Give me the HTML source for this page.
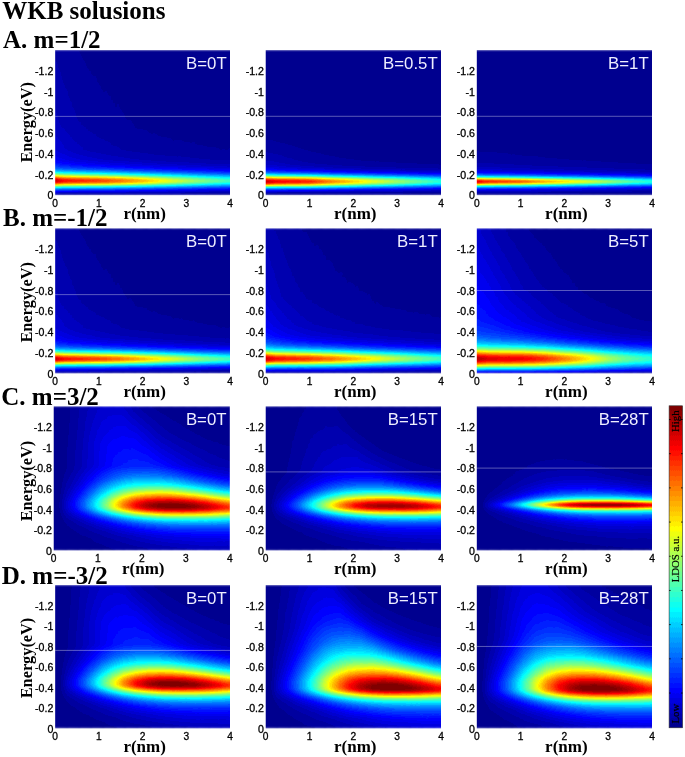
<!DOCTYPE html><html><head><meta charset="utf-8"><style>.g0{stop-color:#000000}.g1{stop-color:#010101}.g2{stop-color:#020202}.g3{stop-color:#030303}.g4{stop-color:#040404}.g5{stop-color:#050505}.g6{stop-color:#060606}.g7{stop-color:#070707}.g8{stop-color:#080808}.g9{stop-color:#090909}.ga{stop-color:#0a0a0a}.gb{stop-color:#0b0b0b}.gc{stop-color:#0c0c0c}.gd{stop-color:#0d0d0d}.ge{stop-color:#0e0e0e}.gf{stop-color:#0f0f0f}.g10{stop-color:#101010}.g11{stop-color:#111111}.g12{stop-color:#121212}.g13{stop-color:#131313}.g14{stop-color:#141414}.g15{stop-color:#151515}.g16{stop-color:#161616}.g17{stop-color:#171717}.g18{stop-color:#181818}.g19{stop-color:#191919}.g1a{stop-color:#1a1a1a}.g1b{stop-color:#1b1b1b}.g1c{stop-color:#1c1c1c}.g1d{stop-color:#1d1d1d}.g1e{stop-color:#1e1e1e}.g1f{stop-color:#1f1f1f}.g20{stop-color:#202020}.g21{stop-color:#212121}.g22{stop-color:#222222}.g23{stop-color:#232323}.g24{stop-color:#242424}.g25{stop-color:#252525}.g26{stop-color:#262626}.g27{stop-color:#272727}.g28{stop-color:#282828}.g29{stop-color:#292929}.g2a{stop-color:#2a2a2a}.g2b{stop-color:#2b2b2b}.g2c{stop-color:#2c2c2c}.g2d{stop-color:#2d2d2d}.g2e{stop-color:#2e2e2e}.g2f{stop-color:#2f2f2f}.g30{stop-color:#303030}.g31{stop-color:#313131}.g32{stop-color:#323232}.g33{stop-color:#333333}.g34{stop-color:#343434}.g35{stop-color:#353535}.g36{stop-color:#363636}.g37{stop-color:#373737}.g38{stop-color:#383838}.g39{stop-color:#393939}.g3a{stop-color:#3a3a3a}.g3b{stop-color:#3b3b3b}.g3c{stop-color:#3c3c3c}.g3d{stop-color:#3d3d3d}.g3e{stop-color:#3e3e3e}.g3f{stop-color:#3f3f3f}.g40{stop-color:#404040}.g41{stop-color:#414141}.g42{stop-color:#424242}.g43{stop-color:#434343}.g44{stop-color:#444444}.g45{stop-color:#454545}.g46{stop-color:#464646}.g47{stop-color:#474747}.g48{stop-color:#484848}.g49{stop-color:#494949}.g4a{stop-color:#4a4a4a}.g4b{stop-color:#4b4b4b}.g4c{stop-color:#4c4c4c}.g4d{stop-color:#4d4d4d}.g4e{stop-color:#4e4e4e}.g4f{stop-color:#4f4f4f}.g50{stop-color:#505050}.g51{stop-color:#515151}.g52{stop-color:#525252}.g53{stop-color:#535353}.g54{stop-color:#545454}.g55{stop-color:#555555}.g56{stop-color:#565656}.g57{stop-color:#575757}.g58{stop-color:#585858}.g59{stop-color:#595959}.g5a{stop-color:#5a5a5a}.g5b{stop-color:#5b5b5b}.g5c{stop-color:#5c5c5c}.g5d{stop-color:#5d5d5d}.g5e{stop-color:#5e5e5e}.g5f{stop-color:#5f5f5f}.g60{stop-color:#606060}.g61{stop-color:#616161}.g62{stop-color:#626262}.g63{stop-color:#636363}.g64{stop-color:#646464}.g65{stop-color:#656565}.g66{stop-color:#666666}.g67{stop-color:#676767}.g68{stop-color:#686868}.g69{stop-color:#696969}.g6a{stop-color:#6a6a6a}.g6b{stop-color:#6b6b6b}.g6c{stop-color:#6c6c6c}.g6d{stop-color:#6d6d6d}.g6e{stop-color:#6e6e6e}.g6f{stop-color:#6f6f6f}.g70{stop-color:#707070}.g71{stop-color:#717171}.g72{stop-color:#727272}.g73{stop-color:#737373}.g74{stop-color:#747474}.g75{stop-color:#757575}.g76{stop-color:#767676}.g77{stop-color:#777777}.g78{stop-color:#787878}.g79{stop-color:#797979}.g7a{stop-color:#7a7a7a}.g7b{stop-color:#7b7b7b}.g7c{stop-color:#7c7c7c}.g7d{stop-color:#7d7d7d}.g7e{stop-color:#7e7e7e}.g7f{stop-color:#7f7f7f}.g80{stop-color:#808080}.g81{stop-color:#818181}.g82{stop-color:#828282}.g83{stop-color:#838383}.g84{stop-color:#848484}.g85{stop-color:#858585}.g86{stop-color:#868686}.g87{stop-color:#878787}.g88{stop-color:#888888}.g89{stop-color:#898989}.g8a{stop-color:#8a8a8a}.g8b{stop-color:#8b8b8b}.g8c{stop-color:#8c8c8c}.g8d{stop-color:#8d8d8d}.g8e{stop-color:#8e8e8e}.g8f{stop-color:#8f8f8f}.g90{stop-color:#909090}.g91{stop-color:#919191}.g92{stop-color:#929292}.g93{stop-color:#939393}.g94{stop-color:#949494}.g95{stop-color:#959595}.g96{stop-color:#969696}.g97{stop-color:#979797}.g98{stop-color:#989898}.g99{stop-color:#999999}.g9a{stop-color:#9a9a9a}.g9b{stop-color:#9b9b9b}.g9c{stop-color:#9c9c9c}.g9d{stop-color:#9d9d9d}.g9e{stop-color:#9e9e9e}.g9f{stop-color:#9f9f9f}.ga0{stop-color:#a0a0a0}.ga1{stop-color:#a1a1a1}.ga2{stop-color:#a2a2a2}.ga3{stop-color:#a3a3a3}.ga4{stop-color:#a4a4a4}.ga5{stop-color:#a5a5a5}.ga6{stop-color:#a6a6a6}.ga7{stop-color:#a7a7a7}.ga8{stop-color:#a8a8a8}.ga9{stop-color:#a9a9a9}.gaa{stop-color:#aaaaaa}.gab{stop-color:#ababab}.gac{stop-color:#acacac}.gad{stop-color:#adadad}.gae{stop-color:#aeaeae}.gaf{stop-color:#afafaf}.gb0{stop-color:#b0b0b0}.gb1{stop-color:#b1b1b1}.gb2{stop-color:#b2b2b2}.gb3{stop-color:#b3b3b3}.gb4{stop-color:#b4b4b4}.gb5{stop-color:#b5b5b5}.gb6{stop-color:#b6b6b6}.gb7{stop-color:#b7b7b7}.gb8{stop-color:#b8b8b8}.gb9{stop-color:#b9b9b9}.gba{stop-color:#bababa}.gbb{stop-color:#bbbbbb}.gbc{stop-color:#bcbcbc}.gbd{stop-color:#bdbdbd}.gbe{stop-color:#bebebe}.gbf{stop-color:#bfbfbf}.gc0{stop-color:#c0c0c0}.gc1{stop-color:#c1c1c1}.gc2{stop-color:#c2c2c2}.gc3{stop-color:#c3c3c3}.gc4{stop-color:#c4c4c4}.gc5{stop-color:#c5c5c5}.gc6{stop-color:#c6c6c6}.gc7{stop-color:#c7c7c7}.gc8{stop-color:#c8c8c8}.gc9{stop-color:#c9c9c9}.gca{stop-color:#cacaca}.gcb{stop-color:#cbcbcb}.gcc{stop-color:#cccccc}.gcd{stop-color:#cdcdcd}.gce{stop-color:#cecece}.gcf{stop-color:#cfcfcf}.gd0{stop-color:#d0d0d0}.gd1{stop-color:#d1d1d1}.gd2{stop-color:#d2d2d2}.gd3{stop-color:#d3d3d3}.gd4{stop-color:#d4d4d4}.gd5{stop-color:#d5d5d5}.gd6{stop-color:#d6d6d6}.gd7{stop-color:#d7d7d7}.gd8{stop-color:#d8d8d8}.gd9{stop-color:#d9d9d9}.gda{stop-color:#dadada}.gdb{stop-color:#dbdbdb}.gdc{stop-color:#dcdcdc}.gdd{stop-color:#dddddd}.gde{stop-color:#dedede}.gdf{stop-color:#dfdfdf}.ge0{stop-color:#e0e0e0}.ge1{stop-color:#e1e1e1}.ge2{stop-color:#e2e2e2}.ge3{stop-color:#e3e3e3}.ge4{stop-color:#e4e4e4}.ge5{stop-color:#e5e5e5}.ge6{stop-color:#e6e6e6}.ge7{stop-color:#e7e7e7}.ge8{stop-color:#e8e8e8}.ge9{stop-color:#e9e9e9}.gea{stop-color:#eaeaea}.geb{stop-color:#ebebeb}.gec{stop-color:#ececec}.ged{stop-color:#ededed}.gee{stop-color:#eeeeee}.gef{stop-color:#efefef}.gf0{stop-color:#f0f0f0}.gf1{stop-color:#f1f1f1}.gf2{stop-color:#f2f2f2}.gf3{stop-color:#f3f3f3}.gf4{stop-color:#f4f4f4}.gf5{stop-color:#f5f5f5}.gf6{stop-color:#f6f6f6}.gf7{stop-color:#f7f7f7}.gf8{stop-color:#f8f8f8}.gf9{stop-color:#f9f9f9}.gfa{stop-color:#fafafa}.gfb{stop-color:#fbfbfb}.gfc{stop-color:#fcfcfc}.gfd{stop-color:#fdfdfd}.gfe{stop-color:#fefefe}.gff{stop-color:#ffffff}body{margin:0;background:#fff}svg{display:block;filter:blur(.4px)}
text{font-family:"Liberation Sans",sans-serif}
.ti,.rl{font-family:"Liberation Serif",serif;font-weight:bold;font-size:25px}
.ax{font-family:"Liberation Serif",serif;font-weight:bold;font-size:17px}
.yt{font-size:10.6px;text-anchor:end;fill:#000;stroke:#000;stroke-width:.3px}
.xt{font-size:10.2px;text-anchor:middle;fill:#000;stroke:#000;stroke-width:.3px}
.bl{font-size:16.8px;text-anchor:end;fill:#eef}
.cb{font-family:"Liberation Serif",serif;font-size:10.8px;text-anchor:middle;fill:#000;stroke:#000;stroke-width:.2px}</style></head><body><svg width="685" height="757" viewBox="0 0 685 757"><defs><filter id="jet" color-interpolation-filters="sRGB" x="-5%" y="-2%" width="110%" height="104%"><feGaussianBlur stdDeviation="1.2 1"/><feComponentTransfer><feFuncR type="discrete" tableValues="0 0 0 0 0 0 0 0 0 0 0 0 0 0 0 0 0 0 0 0 0 0 0 0 0 0 0 0 0 0 0 0 0 0 0 0 0 0 0 0 0 0 0 0 0 0 0 0 0 0 0 0 0 0 0 0 0 0 0 0 0 0 0 0 0 0 0 0 0 0 0 0 0 0 0 0 0 0 0 0 0 0 0 0 0 0 0 0 0 0 0 0 0 0 0 0 0 0 0 0 0 0 0 0 0 0 0 0 0 0 0 0 0 0 0 0 0 0 0 0 0 0 0 0 0 0 0 0 0 0 0 0 0 0 0 0 0 0 0 0 0 0 0 0 0 0 0 0 0 .0625 .0625 .0625 .0625 .125 .125 .125 .1875 .1875 .1875 .25 .25 .25 .3125 .3125 .3125 .375 .375 .375 .375 .4375 .4375 .4375 .5 .5 .5 .5625 .5625 .5625 .625 .625 .625 .6875 .6875 .75 .75 .75 .8125 .8125 .8125 .875 .875 .875 .9375 .9375 .9375 1 1 1 1 1 1 1 1 1 1 1 1 1 1 1 1 1 1 1 1 1 1 1 1 1 1 1 1 1 1 1 1 1 1 1 1 1 1 1 1 1 1 .9375 .9375 .9375 .875 .875 .8125 .8125 .75 .75 .75 .6875 .6875 .625 .625 .5625 .5625 .5 .5 .5"/><feFuncG type="discrete" tableValues="0 0 0 0 0 0 0 0 0 0 0 0 0 0 0 0 0 0 0 0 0 0 0 0 0 0 0 0 0 0 0 0 0 0 0 0 0 0 0 0 0 0 0 0 0 0 0 0 0 0 0 0 0 0 0 0 0 0 0 0 0 0 0 0 0 0 0 0 0 0 0 0 0 0 0 0 0 0 0 0 0 0 .0625 .0625 .0625 .0625 .0625 .125 .125 .125 .125 .125 .1875 .1875 .1875 .1875 .1875 .25 .25 .25 .25 .25 .3125 .3125 .3125 .3125 .3125 .375 .375 .375 .375 .4375 .4375 .4375 .4375 .5 .5 .5 .5 .5625 .5625 .5625 .5625 .625 .625 .625 .625 .6875 .6875 .6875 .6875 .75 .75 .75 .75 .8125 .8125 .8125 .8125 .875 .875 .875 .9375 .9375 .9375 .9375 1 1 1 1 1 1 1 1 1 1 1 1 1 1 1 1 1 1 1 1 1 1 1 1 1 1 1 1 1 1 1 1 1 1 1 1 1 1 1 1 1 1 1 1 1 1 1 1 1 1 1 .9375 .9375 .9375 .875 .875 .875 .8125 .8125 .75 .75 .75 .6875 .6875 .6875 .625 .625 .5625 .5625 .5625 .5 .5 .4375 .4375 .4375 .375 .375 .3125 .3125 .3125 .25 .25 .1875 .1875 .125 .125 .125 .0625 .0625 0 0 0 0 0 0 0 0 0 0 0 0 0 0 0 0 0 0 0 0 0"/><feFuncB type="discrete" tableValues=".5625 .5625 .5625 .5625 .5625 .5625 .5625 .5625 .5625 .5625 .5625 .5625 .5625 .5625 .5625 .5625 .5625 .5625 .5625 .5625 .5625 .5625 .5625 .5625 .5625 .5625 .625 .625 .625 .625 .625 .625 .625 .625 .625 .625 .625 .625 .6875 .6875 .6875 .6875 .6875 .6875 .6875 .6875 .6875 .6875 .75 .75 .75 .75 .75 .75 .75 .75 .8125 .8125 .8125 .8125 .8125 .8125 .8125 .875 .875 .875 .875 .875 .875 .875 .9375 .9375 .9375 .9375 .9375 .9375 1 1 1 1 1 1 1 1 1 1 1 1 1 1 1 1 1 1 1 1 1 1 1 1 1 1 1 1 1 1 1 1 1 1 1 1 1 1 1 1 1 1 1 1 1 1 1 1 1 1 1 1 1 1 1 1 1 1 1 1 1 1 1 1 1 1 1 1 1 1 1 1 1 .9375 .9375 .9375 .9375 .875 .875 .875 .8125 .8125 .8125 .75 .75 .75 .6875 .6875 .6875 .625 .625 .625 .625 .5625 .5625 .5625 .5 .5 .5 .4375 .4375 .4375 .375 .375 .375 .3125 .3125 .25 .25 .25 .1875 .1875 .1875 .125 .125 .125 .0625 .0625 .0625 0 0 0 0 0 0 0 0 0 0 0 0 0 0 0 0 0 0 0 0 0 0 0 0 0 0 0 0 0 0 0 0 0 0 0 0 0 0 0 0 0 0 0 0 0 0 0 0 0 0 0 0 0 0 0 0 0 0 0 0 0"/></feComponentTransfer></filter><linearGradient id="rg"><stop offset="0" stop-color="#000"/><stop offset="1" stop-color="#fff"/></linearGradient><mask id="rm" maskContentUnits="objectBoundingBox"><rect width="1" height="1" fill="url(#rg)"/></mask><linearGradient id="q0" x2="0" y2="1"><stop offset="0" class="g25"/><stop offset=".52" class="g34"/><stop offset=".699" class="g41"/><stop offset=".761" class="g4d"/><stop offset=".795" class="g5d"/><stop offset=".82" class="g72"/><stop offset=".84" class="g90"/><stop offset=".861" class="gba"/><stop offset=".882" class="ge6"/><stop offset=".892" class="gf5"/><stop offset=".902" class="gfa"/><stop offset=".909" class="gf6"/><stop offset=".919" class="ge4"/><stop offset=".937" class="gb4"/><stop offset=".957" class="g79"/><stop offset=".992" class="g28"/><stop offset=".995" class="g1e"/><stop offset=".999" class="gf"/></linearGradient><linearGradient id="q1" x2="0" y2="1"><stop offset="0" class="g20"/><stop offset=".51" class="g2e"/><stop offset=".696" class="g3b"/><stop offset=".761" class="g48"/><stop offset=".795" class="g58"/><stop offset=".82" class="g6d"/><stop offset=".84" class="g89"/><stop offset=".864" class="gb9"/><stop offset=".882" class="gdc"/><stop offset=".892" class="gea"/><stop offset=".902" class="gf0"/><stop offset=".909" class="gec"/><stop offset=".919" class="gdb"/><stop offset=".937" class="gad"/><stop offset=".957" class="g74"/><stop offset=".992" class="g26"/><stop offset=".995" class="g1c"/><stop offset=".999" class="ge"/></linearGradient><linearGradient id="q2" x2="0" y2="1"><stop offset="0" class="g1b"/><stop offset=".51" class="g28"/><stop offset=".692" class="g34"/><stop offset=".758" class="g41"/><stop offset=".792" class="g51"/><stop offset=".816" class="g65"/><stop offset=".837" class="g80"/><stop offset=".857" class="ga7"/><stop offset=".882" class="gd9"/><stop offset=".892" class="ge7"/><stop offset=".902" class="gec"/><stop offset=".909" class="ge8"/><stop offset=".919" class="gd8"/><stop offset=".937" class="gaa"/><stop offset=".957" class="g73"/><stop offset=".992" class="g26"/><stop offset=".995" class="g1c"/><stop offset=".999" class="ge"/></linearGradient><linearGradient id="q3" x2="0" y2="1"><stop offset="0" class="g17"/><stop offset=".513" class="g24"/><stop offset=".689" class="g2f"/><stop offset=".754" class="g3c"/><stop offset=".792" class="g4d"/><stop offset=".816" class="g61"/><stop offset=".837" class="g7d"/><stop offset=".857" class="ga4"/><stop offset=".882" class="gd6"/><stop offset=".892" class="ge4"/><stop offset=".902" class="ge9"/><stop offset=".909" class="ge6"/><stop offset=".919" class="gd5"/><stop offset=".937" class="ga8"/><stop offset=".957" class="g71"/><stop offset=".992" class="g25"/><stop offset=".995" class="g1c"/><stop offset=".999" class="ge"/></linearGradient><linearGradient id="q4" x2="0" y2="1"><stop offset="0" class="g15"/><stop offset=".517" class="g20"/><stop offset=".689" class="g2c"/><stop offset=".754" class="g38"/><stop offset=".789" class="g48"/><stop offset=".813" class="g5b"/><stop offset=".833" class="g75"/><stop offset=".854" class="g9a"/><stop offset=".882" class="gd3"/><stop offset=".892" class="ge2"/><stop offset=".902" class="ge7"/><stop offset=".909" class="ge3"/><stop offset=".919" class="gd3"/><stop offset=".937" class="ga6"/><stop offset=".961" class="g68"/><stop offset=".992" class="g25"/><stop offset=".995" class="g1b"/><stop offset=".999" class="ge"/></linearGradient><linearGradient id="q5" x2="0" y2="1"><stop offset="0" class="g13"/><stop offset=".523" class="g1e"/><stop offset=".689" class="g29"/><stop offset=".754" class="g35"/><stop offset=".789" class="g45"/><stop offset=".813" class="g58"/><stop offset=".833" class="g72"/><stop offset=".854" class="g96"/><stop offset=".882" class="gcf"/><stop offset=".892" class="gdd"/><stop offset=".902" class="ge2"/><stop offset=".913" class="gda"/><stop offset=".923" class="gc7"/><stop offset=".957" class="g6e"/><stop offset=".992" class="g24"/><stop offset=".995" class="g1b"/><stop offset=".999" class="gd"/></linearGradient><linearGradient id="q6" x2="0" y2="1"><stop offset="0" class="g11"/><stop offset=".53" class="g1c"/><stop offset=".692" class="g26"/><stop offset=".754" class="g33"/><stop offset=".792" class="g44"/><stop offset=".816" class="g58"/><stop offset=".837" class="g73"/><stop offset=".857" class="g99"/><stop offset=".882" class="gca"/><stop offset=".892" class="gd8"/><stop offset=".902" class="gdd"/><stop offset=".913" class="gd5"/><stop offset=".923" class="gc2"/><stop offset=".957" class="g6b"/><stop offset=".992" class="g23"/><stop offset=".995" class="g1a"/><stop offset=".999" class="gd"/></linearGradient><linearGradient id="q7" x2="0" y2="1"><stop offset="0" class="g10"/><stop offset=".534" class="g1a"/><stop offset=".692" class="g24"/><stop offset=".754" class="g30"/><stop offset=".792" class="g41"/><stop offset=".816" class="g55"/><stop offset=".837" class="g70"/><stop offset=".861" class="g9c"/><stop offset=".882" class="gc4"/><stop offset=".892" class="gd2"/><stop offset=".902" class="gd6"/><stop offset=".913" class="gcf"/><stop offset=".923" class="gbd"/><stop offset=".957" class="g68"/><stop offset=".992" class="g22"/><stop offset=".995" class="g19"/><stop offset=".999" class="gd"/></linearGradient><linearGradient id="q8" x2="0" y2="1"><stop offset="0" class="gf"/><stop offset=".541" class="g19"/><stop offset=".696" class="g23"/><stop offset=".758" class="g2f"/><stop offset=".792" class="g3f"/><stop offset=".816" class="g52"/><stop offset=".837" class="g6c"/><stop offset=".861" class="g97"/><stop offset=".882" class="gbe"/><stop offset=".892" class="gcb"/><stop offset=".902" class="gd0"/><stop offset=".913" class="gc9"/><stop offset=".923" class="gb7"/><stop offset=".957" class="g65"/><stop offset=".992" class="g21"/><stop offset=".995" class="g19"/><stop offset=".999" class="gc"/></linearGradient><linearGradient id="q9" x2="0" y2="1"><stop offset="0" class="ge"/><stop offset=".544" class="g17"/><stop offset=".699" class="g21"/><stop offset=".761" class="g2e"/><stop offset=".795" class="g3e"/><stop offset=".82" class="g53"/><stop offset=".84" class="g6d"/><stop offset=".868" class="g9f"/><stop offset=".885" class="gbc"/><stop offset=".895" class="gc6"/><stop offset=".906" class="gc8"/><stop offset=".916" class="gbd"/><stop offset=".93" class="ga1"/><stop offset=".957" class="g61"/><stop offset=".992" class="g20"/><stop offset=".995" class="g18"/><stop offset=".999" class="gc"/></linearGradient><linearGradient id="q10" x2="0" y2="1"><stop offset="0" class="gd"/><stop offset=".551" class="g16"/><stop offset=".702" class="g20"/><stop offset=".761" class="g2c"/><stop offset=".795" class="g3c"/><stop offset=".823" class="g53"/><stop offset=".844" class="g6f"/><stop offset=".882" class="gb1"/><stop offset=".892" class="gbd"/><stop offset=".902" class="gc1"/><stop offset=".913" class="gbb"/><stop offset=".923" class="gaa"/><stop offset=".961" class="g57"/><stop offset=".992" class="g1f"/><stop offset=".995" class="g17"/><stop offset=".999" class="gb"/></linearGradient><linearGradient id="q11" x2="0" y2="1"><stop offset="0" class="gd"/><stop offset=".554" class="g15"/><stop offset=".702" class="g1f"/><stop offset=".764" class="g2c"/><stop offset=".799" class="g3c"/><stop offset=".823" class="g50"/><stop offset=".847" class="g70"/><stop offset=".882" class="gab"/><stop offset=".895" class="gb9"/><stop offset=".906" class="gba"/><stop offset=".916" class="gb0"/><stop offset=".93" class="g96"/><stop offset=".957" class="g5b"/><stop offset=".992" class="g1e"/><stop offset=".999" class="gb"/></linearGradient><linearGradient id="q12" x2="0" y2="1"><stop offset="0" class="gc"/><stop offset=".561" class="g15"/><stop offset=".706" class="g1e"/><stop offset=".764" class="g2a"/><stop offset=".799" class="g3a"/><stop offset=".826" class="g51"/><stop offset=".851" class="g71"/><stop offset=".882" class="ga5"/><stop offset=".895" class="gb3"/><stop offset=".906" class="gb4"/><stop offset=".916" class="gaa"/><stop offset=".93" class="g91"/><stop offset=".961" class="g51"/><stop offset=".992" class="g1d"/><stop offset=".999" class="gb"/></linearGradient><linearGradient id="q13" x2="0" y2="1"><stop offset="0" class="gb"/><stop offset=".565" class="g14"/><stop offset=".709" class="g1d"/><stop offset=".768" class="g29"/><stop offset=".802" class="g3a"/><stop offset=".826" class="g4e"/><stop offset=".851" class="g6d"/><stop offset=".882" class="g9f"/><stop offset=".895" class="gac"/><stop offset=".906" class="gad"/><stop offset=".916" class="ga4"/><stop offset=".933" class="g85"/><stop offset=".961" class="g4e"/><stop offset=".992" class="g1c"/><stop offset=".999" class="ga"/></linearGradient><linearGradient id="q14" x2="0" y2="1"><stop offset="0" class="gb"/><stop offset=".572" class="g13"/><stop offset=".713" class="g1c"/><stop offset=".771" class="g29"/><stop offset=".806" class="g3a"/><stop offset=".83" class="g4f"/><stop offset=".854" class="g6f"/><stop offset=".882" class="g99"/><stop offset=".895" class="ga6"/><stop offset=".906" class="ga7"/><stop offset=".916" class="g9e"/><stop offset=".933" class="g80"/><stop offset=".961" class="g4c"/><stop offset=".992" class="g1b"/><stop offset=".999" class="ga"/></linearGradient><linearGradient id="q15" x2="0" y2="1"><stop offset="0" class="gb"/><stop offset=".575" class="g13"/><stop offset=".716" class="g1c"/><stop offset=".775" class="g29"/><stop offset=".809" class="g3a"/><stop offset=".833" class="g50"/><stop offset=".861" class="g75"/><stop offset=".885" class="g98"/><stop offset=".899" class="ga2"/><stop offset=".909" class="g9f"/><stop offset=".919" class="g94"/><stop offset=".964" class="g44"/><stop offset=".992" class="g1a"/><stop offset=".999" class="ga"/></linearGradient><clipPath id="cA1"><rect x="55.10" y="50.00" width="174.90" height="145.20"/></clipPath><linearGradient id="q16" x2="0" y2="1"><stop offset="0" class="g2"/><stop offset=".393" class="gb"/><stop offset=".613" class="g1a"/><stop offset=".751" class="g2d"/><stop offset=".795" class="g3a"/><stop offset=".82" class="g4b"/><stop offset=".837" class="g62"/><stop offset=".851" class="g7e"/><stop offset=".871" class="gb6"/><stop offset=".885" class="gdc"/><stop offset=".895" class="gf1"/><stop offset=".906" class="gfa"/><stop offset=".913" class="gf7"/><stop offset=".919" class="gec"/><stop offset=".93" class="gd1"/><stop offset=".961" class="g67"/><stop offset=".978" class="g38"/><stop offset=".995" class="g12"/><stop offset=".999" class="g9"/></linearGradient><linearGradient id="q17" x2="0" y2="1"><stop offset="0" class="g2"/><stop offset=".399" class="gb"/><stop offset=".623" class="g19"/><stop offset=".758" class="g2c"/><stop offset=".799" class="g39"/><stop offset=".82" class="g47"/><stop offset=".837" class="g5e"/><stop offset=".851" class="g79"/><stop offset=".871" class="gb0"/><stop offset=".885" class="gd5"/><stop offset=".895" class="ge9"/><stop offset=".906" class="gf2"/><stop offset=".913" class="gef"/><stop offset=".919" class="ge4"/><stop offset=".93" class="gca"/><stop offset=".961" class="g64"/><stop offset=".978" class="g36"/><stop offset=".995" class="g12"/><stop offset=".999" class="g9"/></linearGradient><linearGradient id="q18" x2="0" y2="1"><stop offset="0" class="g2"/><stop offset=".417" class="ga"/><stop offset=".644" class="g19"/><stop offset=".764" class="g29"/><stop offset=".799" class="g34"/><stop offset=".82" class="g43"/><stop offset=".837" class="g5a"/><stop offset=".851" class="g76"/><stop offset=".871" class="gae"/><stop offset=".885" class="gd3"/><stop offset=".895" class="ge7"/><stop offset=".906" class="gf0"/><stop offset=".913" class="ged"/><stop offset=".919" class="ge2"/><stop offset=".93" class="gc8"/><stop offset=".961" class="g63"/><stop offset=".978" class="g36"/><stop offset=".995" class="g12"/><stop offset=".999" class="g8"/></linearGradient><linearGradient id="q19" x2="0" y2="1"><stop offset="0" class="g2"/><stop offset=".43" class="ga"/><stop offset=".661" class="g18"/><stop offset=".768" class="g26"/><stop offset=".802" class="g32"/><stop offset=".823" class="g43"/><stop offset=".84" class="g5d"/><stop offset=".854" class="g7b"/><stop offset=".885" class="gd1"/><stop offset=".895" class="ge5"/><stop offset=".906" class="gee"/><stop offset=".913" class="geb"/><stop offset=".923" class="gd9"/><stop offset=".933" class="gbc"/><stop offset=".961" class="g62"/><stop offset=".978" class="g36"/><stop offset=".995" class="g12"/><stop offset=".999" class="g8"/></linearGradient><linearGradient id="q20" x2="0" y2="1"><stop offset="0" class="g2"/><stop offset=".444" class="g9"/><stop offset=".678" class="g17"/><stop offset=".771" class="g23"/><stop offset=".802" class="g2f"/><stop offset=".823" class="g40"/><stop offset=".84" class="g5a"/><stop offset=".854" class="g78"/><stop offset=".885" class="gce"/><stop offset=".895" class="ge2"/><stop offset=".906" class="gea"/><stop offset=".913" class="ge7"/><stop offset=".923" class="gd6"/><stop offset=".933" class="gb9"/><stop offset=".961" class="g60"/><stop offset=".978" class="g35"/><stop offset=".995" class="g11"/><stop offset=".999" class="g8"/></linearGradient><linearGradient id="q21" x2="0" y2="1"><stop offset="0" class="g2"/><stop offset=".458" class="g9"/><stop offset=".696" class="g17"/><stop offset=".778" class="g22"/><stop offset=".806" class="g2e"/><stop offset=".826" class="g41"/><stop offset=".844" class="g5c"/><stop offset=".861" class="g85"/><stop offset=".885" class="gc6"/><stop offset=".895" class="gd9"/><stop offset=".906" class="ge1"/><stop offset=".913" class="gde"/><stop offset=".923" class="gce"/><stop offset=".937" class="ga8"/><stop offset=".961" class="g5d"/><stop offset=".978" class="g33"/><stop offset=".999" class="g8"/></linearGradient><linearGradient id="q22" x2="0" y2="1"><stop offset="0" class="g1"/><stop offset=".468" class="g9"/><stop offset=".706" class="g16"/><stop offset=".778" class="g20"/><stop offset=".806" class="g2b"/><stop offset=".826" class="g3e"/><stop offset=".844" class="g59"/><stop offset=".861" class="g80"/><stop offset=".885" class="gbf"/><stop offset=".895" class="gd2"/><stop offset=".906" class="gd9"/><stop offset=".913" class="gd6"/><stop offset=".923" class="gc6"/><stop offset=".937" class="ga2"/><stop offset=".961" class="g59"/><stop offset=".978" class="g31"/><stop offset=".999" class="g8"/></linearGradient><linearGradient id="q23" x2="0" y2="1"><stop offset="0" class="g1"/><stop offset=".479" class="g8"/><stop offset=".716" class="g15"/><stop offset=".782" class="g1f"/><stop offset=".809" class="g2b"/><stop offset=".826" class="g3b"/><stop offset=".844" class="g55"/><stop offset=".861" class="g7c"/><stop offset=".885" class="gb9"/><stop offset=".895" class="gcb"/><stop offset=".906" class="gd2"/><stop offset=".913" class="gcf"/><stop offset=".923" class="gc0"/><stop offset=".937" class="g9c"/><stop offset=".961" class="g57"/><stop offset=".978" class="g2f"/><stop offset=".999" class="g7"/></linearGradient><linearGradient id="q24" x2="0" y2="1"><stop offset="0" class="g1"/><stop offset=".489" class="g8"/><stop offset=".727" class="g15"/><stop offset=".785" class="g1e"/><stop offset=".813" class="g2c"/><stop offset=".83" class="g3d"/><stop offset=".847" class="g59"/><stop offset=".868" class="g88"/><stop offset=".885" class="gb2"/><stop offset=".895" class="gc4"/><stop offset=".906" class="gcb"/><stop offset=".916" class="gc5"/><stop offset=".926" class="gb2"/><stop offset=".947" class="g79"/><stop offset=".964" class="g4b"/><stop offset=".981" class="g27"/><stop offset=".999" class="g7"/></linearGradient><linearGradient id="q25" x2="0" y2="1"><stop offset="0" class="g1"/><stop offset=".496" class="g8"/><stop offset=".73" class="g14"/><stop offset=".789" class="g1e"/><stop offset=".813" class="g2a"/><stop offset=".83" class="g3a"/><stop offset=".847" class="g55"/><stop offset=".868" class="g83"/><stop offset=".885" class="gac"/><stop offset=".895" class="gbd"/><stop offset=".906" class="gc3"/><stop offset=".916" class="gbd"/><stop offset=".926" class="gab"/><stop offset=".947" class="g75"/><stop offset=".964" class="g48"/><stop offset=".981" class="g26"/><stop offset=".999" class="g7"/></linearGradient><linearGradient id="q26" x2="0" y2="1"><stop offset="0" class="g1"/><stop offset=".503" class="g8"/><stop offset=".737" class="g14"/><stop offset=".792" class="g1e"/><stop offset=".816" class="g2b"/><stop offset=".833" class="g3d"/><stop offset=".851" class="g59"/><stop offset=".885" class="ga6"/><stop offset=".895" class="gb7"/><stop offset=".906" class="gbd"/><stop offset=".916" class="gb7"/><stop offset=".926" class="ga6"/><stop offset=".964" class="g46"/><stop offset=".981" class="g25"/><stop offset=".999" class="g7"/></linearGradient><linearGradient id="q27" x2="0" y2="1"><stop offset="0" class="g1"/><stop offset=".51" class="g8"/><stop offset=".74" class="g14"/><stop offset=".792" class="g1d"/><stop offset=".816" class="g29"/><stop offset=".833" class="g3b"/><stop offset=".851" class="g56"/><stop offset=".885" class="ga1"/><stop offset=".895" class="gb1"/><stop offset=".906" class="gb7"/><stop offset=".916" class="gb2"/><stop offset=".926" class="ga1"/><stop offset=".964" class="g44"/><stop offset=".985" class="g1e"/><stop offset=".999" class="g6"/></linearGradient><linearGradient id="q28" x2="0" y2="1"><stop offset="0" class="g1"/><stop offset=".513" class="g8"/><stop offset=".744" class="g14"/><stop offset=".795" class="g1d"/><stop offset=".82" class="g2b"/><stop offset=".837" class="g3d"/><stop offset=".854" class="g59"/><stop offset=".885" class="g9b"/><stop offset=".895" class="gaa"/><stop offset=".906" class="gb0"/><stop offset=".916" class="gab"/><stop offset=".926" class="g9a"/><stop offset=".964" class="g41"/><stop offset=".985" class="g1d"/><stop offset=".999" class="g6"/></linearGradient><linearGradient id="q29" x2="0" y2="1"><stop offset="0" class="g1"/><stop offset=".52" class="g8"/><stop offset=".747" class="g13"/><stop offset=".795" class="g1c"/><stop offset=".82" class="g29"/><stop offset=".837" class="g3b"/><stop offset=".854" class="g56"/><stop offset=".885" class="g94"/><stop offset=".895" class="ga3"/><stop offset=".906" class="ga9"/><stop offset=".916" class="ga4"/><stop offset=".926" class="g94"/><stop offset=".964" class="g3f"/><stop offset=".985" class="g1c"/><stop offset=".999" class="g6"/></linearGradient><linearGradient id="q30" x2="0" y2="1"><stop offset="0" class="g1"/><stop offset=".523" class="g8"/><stop offset=".751" class="g13"/><stop offset=".799" class="g1d"/><stop offset=".823" class="g2a"/><stop offset=".84" class="g3d"/><stop offset=".861" class="g5f"/><stop offset=".885" class="g8f"/><stop offset=".895" class="g9d"/><stop offset=".906" class="ga2"/><stop offset=".916" class="g9d"/><stop offset=".926" class="g8e"/><stop offset=".964" class="g3c"/><stop offset=".985" class="g1b"/><stop offset=".999" class="g6"/></linearGradient><linearGradient id="q31" x2="0" y2="1"><stop offset="0" class="g1"/><stop offset=".527" class="g8"/><stop offset=".751" class="g13"/><stop offset=".799" class="g1c"/><stop offset=".823" class="g29"/><stop offset=".844" class="g40"/><stop offset=".864" class="g63"/><stop offset=".888" class="g90"/><stop offset=".899" class="g9b"/><stop offset=".909" class="g9d"/><stop offset=".919" class="g95"/><stop offset=".933" class="g7d"/><stop offset=".964" class="g3a"/><stop offset=".985" class="g1a"/><stop offset=".999" class="g6"/></linearGradient><clipPath id="cA2"><rect x="265.70" y="50.00" width="175.30" height="145.20"/></clipPath><linearGradient id="q32" x2="0" y2="1"><stop offset="0" class="g3"/><stop offset=".461" class="gc"/><stop offset=".699" class="g1a"/><stop offset=".778" class="g26"/><stop offset=".813" class="g33"/><stop offset=".833" class="g44"/><stop offset=".847" class="g56"/><stop offset=".861" class="g74"/><stop offset=".871" class="g92"/><stop offset=".892" class="gdf"/><stop offset=".899" class="gf2"/><stop offset=".902" class="gf7"/><stop offset=".906" class="gfa"/><stop offset=".909" class="gf9"/><stop offset=".916" class="ged"/><stop offset=".923" class="gd7"/><stop offset=".944" class="g86"/><stop offset=".954" class="g65"/><stop offset=".968" class="g44"/><stop offset=".995" class="g13"/><stop offset=".999" class="g9"/></linearGradient><linearGradient id="q33" x2="0" y2="1"><stop offset="0" class="g3"/><stop offset=".465" class="gc"/><stop offset=".702" class="g1a"/><stop offset=".782" class="g26"/><stop offset=".816" class="g34"/><stop offset=".837" class="g45"/><stop offset=".851" class="g59"/><stop offset=".864" class="g78"/><stop offset=".878" class="ga4"/><stop offset=".892" class="gd5"/><stop offset=".899" class="ge7"/><stop offset=".906" class="gef"/><stop offset=".909" class="gee"/><stop offset=".916" class="ge3"/><stop offset=".923" class="gce"/><stop offset=".944" class="g80"/><stop offset=".957" class="g58"/><stop offset=".971" class="g3b"/><stop offset=".995" class="g12"/><stop offset=".999" class="g9"/></linearGradient><linearGradient id="q34" x2="0" y2="1"><stop offset="0" class="g3"/><stop offset=".468" class="gc"/><stop offset=".706" class="g1a"/><stop offset=".782" class="g25"/><stop offset=".816" class="g33"/><stop offset=".837" class="g44"/><stop offset=".851" class="g58"/><stop offset=".864" class="g76"/><stop offset=".878" class="ga1"/><stop offset=".892" class="gd2"/><stop offset=".899" class="ge4"/><stop offset=".906" class="gec"/><stop offset=".909" class="geb"/><stop offset=".916" class="gdf"/><stop offset=".926" class="gbe"/><stop offset=".944" class="g7e"/><stop offset=".957" class="g57"/><stop offset=".975" class="g34"/><stop offset=".995" class="g11"/><stop offset=".999" class="g9"/></linearGradient><linearGradient id="q35" x2="0" y2="1"><stop offset="0" class="g3"/><stop offset=".475" class="gc"/><stop offset=".709" class="g19"/><stop offset=".785" class="g25"/><stop offset=".816" class="g31"/><stop offset=".837" class="g42"/><stop offset=".851" class="g56"/><stop offset=".864" class="g74"/><stop offset=".878" class="g9f"/><stop offset=".892" class="gcf"/><stop offset=".899" class="ge1"/><stop offset=".906" class="ge8"/><stop offset=".913" class="ge3"/><stop offset=".919" class="gd3"/><stop offset=".944" class="g7c"/><stop offset=".957" class="g55"/><stop offset=".975" class="g33"/><stop offset=".995" class="g11"/><stop offset=".999" class="g9"/></linearGradient><linearGradient id="q36" x2="0" y2="1"><stop offset="0" class="g3"/><stop offset=".482" class="gb"/><stop offset=".713" class="g18"/><stop offset=".785" class="g24"/><stop offset=".816" class="g30"/><stop offset=".837" class="g41"/><stop offset=".851" class="g54"/><stop offset=".864" class="g72"/><stop offset=".878" class="g9c"/><stop offset=".892" class="gcc"/><stop offset=".899" class="gdd"/><stop offset=".906" class="ge5"/><stop offset=".913" class="ge0"/><stop offset=".919" class="gd0"/><stop offset=".944" class="g7b"/><stop offset=".957" class="g54"/><stop offset=".975" class="g32"/><stop offset=".995" class="g11"/><stop offset=".999" class="g8"/></linearGradient><linearGradient id="q37" x2="0" y2="1"><stop offset="0" class="g3"/><stop offset=".489" class="gb"/><stop offset=".716" class="g18"/><stop offset=".789" class="g23"/><stop offset=".82" class="g30"/><stop offset=".84" class="g43"/><stop offset=".854" class="g58"/><stop offset=".868" class="g78"/><stop offset=".885" class="gaf"/><stop offset=".895" class="gcf"/><stop offset=".902" class="gdc"/><stop offset=".909" class="gdd"/><stop offset=".916" class="gd3"/><stop offset=".926" class="gb3"/><stop offset=".944" class="g77"/><stop offset=".957" class="g52"/><stop offset=".975" class="g31"/><stop offset=".995" class="g10"/><stop offset=".999" class="g8"/></linearGradient><linearGradient id="q38" x2="0" y2="1"><stop offset="0" class="g2"/><stop offset=".499" class="gb"/><stop offset=".723" class="g17"/><stop offset=".792" class="g23"/><stop offset=".823" class="g31"/><stop offset=".84" class="g40"/><stop offset=".854" class="g55"/><stop offset=".868" class="g74"/><stop offset=".885" class="gaa"/><stop offset=".895" class="gc9"/><stop offset=".902" class="gd5"/><stop offset=".909" class="gd7"/><stop offset=".916" class="gcc"/><stop offset=".926" class="gae"/><stop offset=".944" class="g73"/><stop offset=".957" class="g4f"/><stop offset=".975" class="g2f"/><stop offset=".995" class="g10"/><stop offset=".999" class="g8"/></linearGradient><linearGradient id="q39" x2="0" y2="1"><stop offset="0" class="g2"/><stop offset=".506" class="gb"/><stop offset=".727" class="g17"/><stop offset=".792" class="g21"/><stop offset=".823" class="g2f"/><stop offset=".844" class="g43"/><stop offset=".857" class="g59"/><stop offset=".871" class="g7a"/><stop offset=".892" class="gba"/><stop offset=".899" class="gca"/><stop offset=".906" class="gd1"/><stop offset=".913" class="gcd"/><stop offset=".919" class="gbe"/><stop offset=".947" class="g66"/><stop offset=".961" class="g46"/><stop offset=".981" class="g24"/><stop offset=".995" class="g10"/><stop offset=".999" class="g8"/></linearGradient><linearGradient id="q40" x2="0" y2="1"><stop offset="0" class="g2"/><stop offset=".513" class="gb"/><stop offset=".73" class="g16"/><stop offset=".795" class="g21"/><stop offset=".826" class="g30"/><stop offset=".844" class="g41"/><stop offset=".857" class="g56"/><stop offset=".871" class="g76"/><stop offset=".892" class="gb5"/><stop offset=".899" class="gc5"/><stop offset=".906" class="gcb"/><stop offset=".913" class="gc7"/><stop offset=".919" class="gb8"/><stop offset=".947" class="g63"/><stop offset=".961" class="g44"/><stop offset=".981" class="g23"/><stop offset=".995" class="gf"/><stop offset=".999" class="g7"/></linearGradient><linearGradient id="q41" x2="0" y2="1"><stop offset="0" class="g2"/><stop offset=".517" class="ga"/><stop offset=".733" class="g16"/><stop offset=".795" class="g20"/><stop offset=".826" class="g2f"/><stop offset=".844" class="g3f"/><stop offset=".857" class="g54"/><stop offset=".871" class="g73"/><stop offset=".892" class="gb0"/><stop offset=".899" class="gbf"/><stop offset=".906" class="gc6"/><stop offset=".913" class="gc1"/><stop offset=".919" class="gb3"/><stop offset=".947" class="g60"/><stop offset=".961" class="g42"/><stop offset=".981" class="g22"/><stop offset=".995" class="gf"/><stop offset=".999" class="g7"/></linearGradient><linearGradient id="q42" x2="0" y2="1"><stop offset="0" class="g2"/><stop offset=".523" class="ga"/><stop offset=".737" class="g15"/><stop offset=".799" class="g20"/><stop offset=".826" class="g2d"/><stop offset=".844" class="g3d"/><stop offset=".857" class="g51"/><stop offset=".871" class="g6f"/><stop offset=".892" class="gaa"/><stop offset=".899" class="gb9"/><stop offset=".906" class="gbf"/><stop offset=".913" class="gbb"/><stop offset=".919" class="gae"/><stop offset=".947" class="g5d"/><stop offset=".961" class="g40"/><stop offset=".981" class="g21"/><stop offset=".995" class="ge"/><stop offset=".999" class="g7"/></linearGradient><linearGradient id="q43" x2="0" y2="1"><stop offset="0" class="g2"/><stop offset=".53" class="ga"/><stop offset=".74" class="g15"/><stop offset=".799" class="g1f"/><stop offset=".826" class="g2c"/><stop offset=".847" class="g3f"/><stop offset=".861" class="g54"/><stop offset=".875" class="g74"/><stop offset=".892" class="ga4"/><stop offset=".899" class="gb3"/><stop offset=".906" class="gb9"/><stop offset=".913" class="gb4"/><stop offset=".919" class="ga7"/><stop offset=".947" class="g5a"/><stop offset=".961" class="g3d"/><stop offset=".981" class="g20"/><stop offset=".995" class="ge"/><stop offset=".999" class="g7"/></linearGradient><linearGradient id="q44" x2="0" y2="1"><stop offset="0" class="g2"/><stop offset=".534" class="ga"/><stop offset=".744" class="g15"/><stop offset=".802" class="g1f"/><stop offset=".83" class="g2c"/><stop offset=".847" class="g3c"/><stop offset=".861" class="g51"/><stop offset=".875" class="g70"/><stop offset=".892" class="g9e"/><stop offset=".899" class="gac"/><stop offset=".906" class="gb1"/><stop offset=".913" class="gad"/><stop offset=".919" class="ga1"/><stop offset=".947" class="g57"/><stop offset=".961" class="g3b"/><stop offset=".981" class="g1f"/><stop offset=".995" class="gd"/><stop offset=".999" class="g6"/></linearGradient><linearGradient id="q45" x2="0" y2="1"><stop offset="0" class="g2"/><stop offset=".541" class="ga"/><stop offset=".747" class="g14"/><stop offset=".806" class="g1f"/><stop offset=".833" class="g2d"/><stop offset=".851" class="g3e"/><stop offset=".864" class="g54"/><stop offset=".882" class="g7d"/><stop offset=".895" class="g9f"/><stop offset=".902" class="ga8"/><stop offset=".909" class="ga9"/><stop offset=".916" class="ga1"/><stop offset=".926" class="g89"/><stop offset=".947" class="g53"/><stop offset=".964" class="g33"/><stop offset=".995" class="gd"/><stop offset=".999" class="g6"/></linearGradient><linearGradient id="q46" x2="0" y2="1"><stop offset="0" class="g2"/><stop offset=".544" class="ga"/><stop offset=".751" class="g14"/><stop offset=".806" class="g1e"/><stop offset=".833" class="g2b"/><stop offset=".851" class="g3c"/><stop offset=".864" class="g51"/><stop offset=".882" class="g78"/><stop offset=".895" class="g99"/><stop offset=".902" class="ga2"/><stop offset=".909" class="ga3"/><stop offset=".916" class="g9b"/><stop offset=".926" class="g84"/><stop offset=".947" class="g50"/><stop offset=".964" class="g31"/><stop offset=".995" class="gc"/><stop offset=".999" class="g6"/></linearGradient><linearGradient id="q47" x2="0" y2="1"><stop offset="0" class="g2"/><stop offset=".548" class="ga"/><stop offset=".754" class="g14"/><stop offset=".809" class="g1e"/><stop offset=".837" class="g2d"/><stop offset=".854" class="g3e"/><stop offset=".868" class="g55"/><stop offset=".895" class="g93"/><stop offset=".902" class="g9c"/><stop offset=".909" class="g9d"/><stop offset=".916" class="g95"/><stop offset=".926" class="g7f"/><stop offset=".947" class="g4d"/><stop offset=".964" class="g30"/><stop offset=".995" class="gc"/><stop offset=".999" class="g6"/></linearGradient><clipPath id="cA3"><rect x="476.80" y="50.00" width="175.20" height="145.20"/></clipPath><clipPath id="cB1"><rect x="55.10" y="228.20" width="174.90" height="145.20"/></clipPath><linearGradient id="q48" x2="0" y2="1"><stop offset="0" class="g2d"/><stop offset=".475" class="g3d"/><stop offset=".678" class="g4c"/><stop offset=".751" class="g5a"/><stop offset=".789" class="g6b"/><stop offset=".816" class="g82"/><stop offset=".837" class="g9d"/><stop offset=".882" class="gec"/><stop offset=".892" class="gf7"/><stop offset=".902" class="gfa"/><stop offset=".913" class="gf2"/><stop offset=".923" class="ge0"/><stop offset=".947" class="ga3"/><stop offset=".988" class="g3b"/><stop offset=".995" class="g24"/><stop offset=".999" class="g12"/></linearGradient><linearGradient id="q49" x2="0" y2="1"><stop offset="0" class="g26"/><stop offset=".468" class="g35"/><stop offset=".668" class="g44"/><stop offset=".744" class="g51"/><stop offset=".785" class="g62"/><stop offset=".813" class="g77"/><stop offset=".837" class="g95"/><stop offset=".882" class="ge2"/><stop offset=".892" class="ged"/><stop offset=".902" class="gef"/><stop offset=".913" class="ge8"/><stop offset=".923" class="gd6"/><stop offset=".95" class="g93"/><stop offset=".988" class="g39"/><stop offset=".995" class="g22"/><stop offset=".999" class="g11"/></linearGradient><linearGradient id="q50" x2="0" y2="1"><stop offset="0" class="g20"/><stop offset=".468" class="g2d"/><stop offset=".665" class="g3c"/><stop offset=".74" class="g49"/><stop offset=".782" class="g5a"/><stop offset=".809" class="g6e"/><stop offset=".833" class="g8c"/><stop offset=".861" class="gbb"/><stop offset=".882" class="gde"/><stop offset=".892" class="ge9"/><stop offset=".902" class="gec"/><stop offset=".913" class="ge4"/><stop offset=".923" class="gd3"/><stop offset=".95" class="g91"/><stop offset=".988" class="g38"/><stop offset=".995" class="g22"/><stop offset=".999" class="g11"/></linearGradient><linearGradient id="q51" x2="0" y2="1"><stop offset="0" class="g1b"/><stop offset=".475" class="g28"/><stop offset=".665" class="g36"/><stop offset=".74" class="g44"/><stop offset=".782" class="g55"/><stop offset=".809" class="g6a"/><stop offset=".833" class="g88"/><stop offset=".861" class="gb8"/><stop offset=".882" class="gdc"/><stop offset=".892" class="ge7"/><stop offset=".902" class="ge9"/><stop offset=".913" class="ge2"/><stop offset=".923" class="gd1"/><stop offset=".988" class="g37"/><stop offset=".995" class="g22"/><stop offset=".999" class="g11"/></linearGradient><linearGradient id="q52" x2="0" y2="1"><stop offset="0" class="g18"/><stop offset=".482" class="g25"/><stop offset=".665" class="g31"/><stop offset=".737" class="g3e"/><stop offset=".778" class="g4f"/><stop offset=".806" class="g63"/><stop offset=".83" class="g80"/><stop offset=".854" class="ga8"/><stop offset=".878" class="gd4"/><stop offset=".892" class="ge4"/><stop offset=".902" class="ge7"/><stop offset=".913" class="gdf"/><stop offset=".926" class="gc7"/><stop offset=".975" class="g57"/><stop offset=".992" class="g2d"/><stop offset=".995" class="g21"/><stop offset=".999" class="g11"/></linearGradient><linearGradient id="q53" x2="0" y2="1"><stop offset="0" class="g16"/><stop offset=".489" class="g22"/><stop offset=".668" class="g2e"/><stop offset=".74" class="g3c"/><stop offset=".782" class="g4d"/><stop offset=".809" class="g63"/><stop offset=".833" class="g81"/><stop offset=".861" class="gb1"/><stop offset=".882" class="gd4"/><stop offset=".892" class="gdf"/><stop offset=".902" class="ge2"/><stop offset=".913" class="gda"/><stop offset=".926" class="gc3"/><stop offset=".975" class="g55"/><stop offset=".992" class="g2c"/><stop offset=".995" class="g20"/><stop offset=".999" class="g10"/></linearGradient><linearGradient id="q54" x2="0" y2="1"><stop offset="0" class="g14"/><stop offset=".492" class="g1f"/><stop offset=".668" class="g2b"/><stop offset=".74" class="g39"/><stop offset=".782" class="g4a"/><stop offset=".809" class="g60"/><stop offset=".833" class="g7d"/><stop offset=".864" class="gb3"/><stop offset=".882" class="gcf"/><stop offset=".895" class="gdb"/><stop offset=".906" class="gdb"/><stop offset=".916" class="gd1"/><stop offset=".93" class="gb7"/><stop offset=".975" class="g53"/><stop offset=".992" class="g2b"/><stop offset=".995" class="g20"/><stop offset=".999" class="g10"/></linearGradient><linearGradient id="q55" x2="0" y2="1"><stop offset="0" class="g13"/><stop offset=".499" class="g1d"/><stop offset=".671" class="g29"/><stop offset=".74" class="g36"/><stop offset=".782" class="g47"/><stop offset=".809" class="g5c"/><stop offset=".833" class="g79"/><stop offset=".864" class="gae"/><stop offset=".882" class="gc9"/><stop offset=".895" class="gd5"/><stop offset=".906" class="gd5"/><stop offset=".916" class="gcb"/><stop offset=".93" class="gb2"/><stop offset=".975" class="g51"/><stop offset=".992" class="g2a"/><stop offset=".995" class="g1f"/><stop offset=".999" class="gf"/></linearGradient><linearGradient id="q56" x2="0" y2="1"><stop offset="0" class="g12"/><stop offset=".506" class="g1c"/><stop offset=".675" class="g27"/><stop offset=".744" class="g34"/><stop offset=".785" class="g46"/><stop offset=".813" class="g5c"/><stop offset=".837" class="g7a"/><stop offset=".878" class="gbe"/><stop offset=".892" class="gcd"/><stop offset=".902" class="gd0"/><stop offset=".913" class="gc9"/><stop offset=".926" class="gb3"/><stop offset=".978" class="g47"/><stop offset=".992" class="g28"/><stop offset=".995" class="g1e"/><stop offset=".999" class="gf"/></linearGradient><linearGradient id="q57" x2="0" y2="1"><stop offset="0" class="g10"/><stop offset=".513" class="g1b"/><stop offset=".678" class="g26"/><stop offset=".747" class="g33"/><stop offset=".785" class="g43"/><stop offset=".813" class="g58"/><stop offset=".837" class="g76"/><stop offset=".878" class="gb8"/><stop offset=".892" class="gc6"/><stop offset=".902" class="gc8"/><stop offset=".913" class="gc2"/><stop offset=".926" class="gad"/><stop offset=".988" class="g2f"/><stop offset=".995" class="g1d"/><stop offset=".999" class="ge"/></linearGradient><linearGradient id="q58" x2="0" y2="1"><stop offset="0" class="g10"/><stop offset=".517" class="g19"/><stop offset=".682" class="g24"/><stop offset=".747" class="g31"/><stop offset=".785" class="g41"/><stop offset=".813" class="g55"/><stop offset=".837" class="g71"/><stop offset=".878" class="gb1"/><stop offset=".892" class="gbf"/><stop offset=".902" class="gc1"/><stop offset=".913" class="gbb"/><stop offset=".926" class="ga7"/><stop offset=".988" class="g2e"/><stop offset=".995" class="g1c"/><stop offset=".999" class="ge"/></linearGradient><linearGradient id="q59" x2="0" y2="1"><stop offset="0" class="gf"/><stop offset=".523" class="g18"/><stop offset=".685" class="g23"/><stop offset=".751" class="g30"/><stop offset=".789" class="g40"/><stop offset=".816" class="g55"/><stop offset=".84" class="g72"/><stop offset=".878" class="gab"/><stop offset=".892" class="gb8"/><stop offset=".902" class="gba"/><stop offset=".913" class="gb4"/><stop offset=".926" class="ga1"/><stop offset=".988" class="g2c"/><stop offset=".995" class="g1b"/><stop offset=".999" class="gd"/></linearGradient><linearGradient id="q60" x2="0" y2="1"><stop offset="0" class="ge"/><stop offset=".527" class="g17"/><stop offset=".685" class="g22"/><stop offset=".751" class="g2e"/><stop offset=".789" class="g3e"/><stop offset=".816" class="g52"/><stop offset=".84" class="g6e"/><stop offset=".878" class="ga5"/><stop offset=".892" class="gb2"/><stop offset=".902" class="gb4"/><stop offset=".913" class="gae"/><stop offset=".926" class="g9c"/><stop offset=".988" class="g2b"/><stop offset=".995" class="g1a"/><stop offset=".999" class="gd"/></linearGradient><linearGradient id="q61" x2="0" y2="1"><stop offset="0" class="gd"/><stop offset=".534" class="g17"/><stop offset=".692" class="g21"/><stop offset=".758" class="g2e"/><stop offset=".795" class="g40"/><stop offset=".823" class="g56"/><stop offset=".851" class="g78"/><stop offset=".882" class="ga4"/><stop offset=".895" class="gad"/><stop offset=".906" class="gad"/><stop offset=".919" class="ga1"/><stop offset=".944" class="g78"/><stop offset=".988" class="g29"/><stop offset=".995" class="g19"/><stop offset=".999" class="gd"/></linearGradient><linearGradient id="q62" x2="0" y2="1"><stop offset="0" class="gd"/><stop offset=".537" class="g16"/><stop offset=".692" class="g20"/><stop offset=".758" class="g2d"/><stop offset=".795" class="g3d"/><stop offset=".823" class="g53"/><stop offset=".851" class="g74"/><stop offset=".882" class="g9e"/><stop offset=".895" class="ga7"/><stop offset=".906" class="ga7"/><stop offset=".919" class="g9b"/><stop offset=".944" class="g73"/><stop offset=".992" class="g21"/><stop offset=".995" class="g18"/><stop offset=".999" class="gc"/></linearGradient><linearGradient id="q63" x2="0" y2="1"><stop offset="0" class="gc"/><stop offset=".541" class="g15"/><stop offset=".696" class="g1f"/><stop offset=".761" class="g2c"/><stop offset=".799" class="g3d"/><stop offset=".826" class="g54"/><stop offset=".857" class="g7a"/><stop offset=".882" class="g98"/><stop offset=".895" class="ga1"/><stop offset=".906" class="ga1"/><stop offset=".919" class="g95"/><stop offset=".944" class="g6f"/><stop offset=".992" class="g1f"/><stop offset=".995" class="g17"/><stop offset=".999" class="gc"/></linearGradient><clipPath id="cB2"><rect x="265.70" y="228.20" width="175.30" height="145.20"/></clipPath><linearGradient id="q64" x2="0" y2="1"><stop offset="0" class="g3b"/><stop offset=".651" class="g59"/><stop offset=".723" class="g64"/><stop offset=".764" class="g74"/><stop offset=".795" class="g88"/><stop offset=".823" class="ga5"/><stop offset=".875" class="geb"/><stop offset=".892" class="gf9"/><stop offset=".906" class="gf9"/><stop offset=".919" class="gf0"/><stop offset=".937" class="gd7"/><stop offset=".961" class="ga6"/><stop offset=".978" class="g7a"/><stop offset=".988" class="g58"/><stop offset=".992" class="g4a"/><stop offset=".995" class="g37"/><stop offset=".999" class="g1c"/></linearGradient><linearGradient id="q65" x2="0" y2="1"><stop offset="0" class="g32"/><stop offset=".644" class="g55"/><stop offset=".723" class="g61"/><stop offset=".768" class="g72"/><stop offset=".799" class="g88"/><stop offset=".83" class="gaa"/><stop offset=".875" class="ge5"/><stop offset=".892" class="gf2"/><stop offset=".906" class="gf3"/><stop offset=".919" class="ge9"/><stop offset=".937" class="gd1"/><stop offset=".961" class="ga2"/><stop offset=".978" class="g77"/><stop offset=".988" class="g56"/><stop offset=".992" class="g48"/><stop offset=".995" class="g36"/><stop offset=".999" class="g1b"/></linearGradient><linearGradient id="q66" x2="0" y2="1"><stop offset="0" class="g29"/><stop offset=".572" class="g4a"/><stop offset=".696" class="g58"/><stop offset=".751" class="g67"/><stop offset=".785" class="g7a"/><stop offset=".816" class="g97"/><stop offset=".875" class="ge3"/><stop offset=".892" class="gf0"/><stop offset=".906" class="gf1"/><stop offset=".919" class="ge7"/><stop offset=".937" class="gd0"/><stop offset=".961" class="ga0"/><stop offset=".978" class="g76"/><stop offset=".988" class="g55"/><stop offset=".992" class="g47"/><stop offset=".995" class="g35"/><stop offset=".999" class="g1b"/></linearGradient><linearGradient id="q67" x2="0" y2="1"><stop offset="0" class="g22"/><stop offset=".451" class="g3a"/><stop offset=".658" class="g4d"/><stop offset=".727" class="g5b"/><stop offset=".768" class="g6c"/><stop offset=".799" class="g83"/><stop offset=".83" class="ga6"/><stop offset=".871" class="gde"/><stop offset=".888" class="ged"/><stop offset=".902" class="gf1"/><stop offset=".916" class="gea"/><stop offset=".933" class="gd5"/><stop offset=".954" class="gae"/><stop offset=".975" class="g7f"/><stop offset=".985" class="g61"/><stop offset=".992" class="g47"/><stop offset=".995" class="g35"/><stop offset=".999" class="g1b"/></linearGradient><linearGradient id="q68" x2="0" y2="1"><stop offset="0" class="g1c"/><stop offset=".41" class="g30"/><stop offset=".637" class="g44"/><stop offset=".716" class="g53"/><stop offset=".761" class="g65"/><stop offset=".795" class="g7d"/><stop offset=".826" class="ga0"/><stop offset=".871" class="gdd"/><stop offset=".888" class="gec"/><stop offset=".902" class="gef"/><stop offset=".916" class="ge9"/><stop offset=".933" class="gd3"/><stop offset=".954" class="gad"/><stop offset=".975" class="g7e"/><stop offset=".985" class="g61"/><stop offset=".992" class="g46"/><stop offset=".995" class="g35"/><stop offset=".999" class="g1b"/></linearGradient><linearGradient id="q69" x2="0" y2="1"><stop offset="0" class="g17"/><stop offset=".399" class="g29"/><stop offset=".62" class="g3c"/><stop offset=".706" class="g4b"/><stop offset=".754" class="g5d"/><stop offset=".789" class="g73"/><stop offset=".82" class="g93"/><stop offset=".875" class="gde"/><stop offset=".892" class="gea"/><stop offset=".906" class="geb"/><stop offset=".919" class="ge2"/><stop offset=".937" class="gcb"/><stop offset=".961" class="g9d"/><stop offset=".978" class="g74"/><stop offset=".988" class="g53"/><stop offset=".992" class="g45"/><stop offset=".995" class="g34"/><stop offset=".999" class="g1b"/></linearGradient><linearGradient id="q70" x2="0" y2="1"><stop offset="0" class="g14"/><stop offset=".403" class="g24"/><stop offset=".616" class="g35"/><stop offset=".702" class="g45"/><stop offset=".751" class="g56"/><stop offset=".785" class="g6c"/><stop offset=".816" class="g8b"/><stop offset=".875" class="gd8"/><stop offset=".892" class="ge5"/><stop offset=".906" class="ge6"/><stop offset=".919" class="gdd"/><stop offset=".937" class="gc6"/><stop offset=".961" class="g99"/><stop offset=".978" class="g71"/><stop offset=".988" class="g51"/><stop offset=".992" class="g44"/><stop offset=".995" class="g33"/><stop offset=".999" class="g1a"/></linearGradient><linearGradient id="q71" x2="0" y2="1"><stop offset="0" class="g11"/><stop offset=".41" class="g1f"/><stop offset=".613" class="g2f"/><stop offset=".702" class="g3f"/><stop offset=".751" class="g51"/><stop offset=".785" class="g66"/><stop offset=".816" class="g84"/><stop offset=".875" class="gd0"/><stop offset=".892" class="gdd"/><stop offset=".906" class="gde"/><stop offset=".919" class="gd5"/><stop offset=".937" class="gbf"/><stop offset=".961" class="g94"/><stop offset=".978" class="g6d"/><stop offset=".988" class="g4e"/><stop offset=".995" class="g31"/><stop offset=".999" class="g19"/></linearGradient><linearGradient id="q72" x2="0" y2="1"><stop offset="0" class="ge"/><stop offset=".417" class="g1c"/><stop offset=".616" class="g2b"/><stop offset=".702" class="g3a"/><stop offset=".754" class="g4d"/><stop offset=".789" class="g63"/><stop offset=".82" class="g82"/><stop offset=".871" class="gc4"/><stop offset=".888" class="gd3"/><stop offset=".902" class="gd6"/><stop offset=".916" class="gd0"/><stop offset=".933" class="gbd"/><stop offset=".957" class="g94"/><stop offset=".978" class="g69"/><stop offset=".988" class="g4b"/><stop offset=".995" class="g2f"/><stop offset=".999" class="g18"/></linearGradient><linearGradient id="q73" x2="0" y2="1"><stop offset="0" class="gc"/><stop offset=".43" class="g19"/><stop offset=".62" class="g27"/><stop offset=".706" class="g36"/><stop offset=".754" class="g48"/><stop offset=".792" class="g61"/><stop offset=".823" class="g80"/><stop offset=".871" class="gbc"/><stop offset=".888" class="gca"/><stop offset=".906" class="gcc"/><stop offset=".923" class="gc1"/><stop offset=".944" class="ga6"/><stop offset=".968" class="g7a"/><stop offset=".981" class="g5c"/><stop offset=".992" class="g3c"/><stop offset=".995" class="g2d"/><stop offset=".999" class="g17"/></linearGradient><linearGradient id="q74" x2="0" y2="1"><stop offset="0" class="gb"/><stop offset=".441" class="g16"/><stop offset=".627" class="g24"/><stop offset=".709" class="g33"/><stop offset=".758" class="g45"/><stop offset=".795" class="g5e"/><stop offset=".83" class="g81"/><stop offset=".871" class="gb3"/><stop offset=".888" class="gc0"/><stop offset=".906" class="gc2"/><stop offset=".923" class="gb7"/><stop offset=".944" class="g9d"/><stop offset=".971" class="g6e"/><stop offset=".985" class="g4e"/><stop offset=".992" class="g39"/><stop offset=".995" class="g2b"/><stop offset=".999" class="g16"/></linearGradient><linearGradient id="q75" x2="0" y2="1"><stop offset="0" class="g9"/><stop offset=".451" class="g14"/><stop offset=".63" class="g21"/><stop offset=".713" class="g2f"/><stop offset=".761" class="g42"/><stop offset=".799" class="g5b"/><stop offset=".833" class="g7d"/><stop offset=".875" class="gac"/><stop offset=".892" class="gb6"/><stop offset=".909" class="gb6"/><stop offset=".926" class="gaa"/><stop offset=".95" class="g8b"/><stop offset=".975" class="g61"/><stop offset=".988" class="g41"/><stop offset=".995" class="g29"/><stop offset=".999" class="g15"/></linearGradient><linearGradient id="q76" x2="0" y2="1"><stop offset="0" class="g8"/><stop offset=".461" class="g12"/><stop offset=".637" class="g1f"/><stop offset=".716" class="g2d"/><stop offset=".764" class="g3f"/><stop offset=".802" class="g59"/><stop offset=".84" class="g7f"/><stop offset=".875" class="ga4"/><stop offset=".892" class="gae"/><stop offset=".909" class="gae"/><stop offset=".926" class="ga2"/><stop offset=".95" class="g84"/><stop offset=".975" class="g5d"/><stop offset=".988" class="g3e"/><stop offset=".995" class="g27"/><stop offset=".999" class="g14"/></linearGradient><linearGradient id="q77" x2="0" y2="1"><stop offset="0" class="g7"/><stop offset=".472" class="g11"/><stop offset=".64" class="g1c"/><stop offset=".72" class="g2b"/><stop offset=".768" class="g3d"/><stop offset=".806" class="g57"/><stop offset=".847" class="g80"/><stop offset=".878" class="g9f"/><stop offset=".895" class="ga7"/><stop offset=".913" class="ga4"/><stop offset=".93" class="g97"/><stop offset=".957" class="g74"/><stop offset=".978" class="g52"/><stop offset=".988" class="g3b"/><stop offset=".995" class="g25"/><stop offset=".999" class="g13"/></linearGradient><linearGradient id="q78" x2="0" y2="1"><stop offset="0" class="g7"/><stop offset=".482" class="g10"/><stop offset=".647" class="g1b"/><stop offset=".723" class="g29"/><stop offset=".771" class="g3c"/><stop offset=".809" class="g56"/><stop offset=".875" class="g97"/><stop offset=".895" class="ga1"/><stop offset=".913" class="g9f"/><stop offset=".933" class="g8f"/><stop offset=".961" class="g6b"/><stop offset=".981" class="g49"/><stop offset=".992" class="g30"/><stop offset=".995" class="g24"/><stop offset=".999" class="g12"/></linearGradient><linearGradient id="q79" x2="0" y2="1"><stop offset="0" class="g6"/><stop offset=".486" class="gf"/><stop offset=".647" class="g1a"/><stop offset=".723" class="g27"/><stop offset=".771" class="g3a"/><stop offset=".809" class="g54"/><stop offset=".875" class="g93"/><stop offset=".895" class="g9e"/><stop offset=".913" class="g9b"/><stop offset=".933" class="g8b"/><stop offset=".961" class="g69"/><stop offset=".981" class="g47"/><stop offset=".992" class="g2e"/><stop offset=".995" class="g23"/><stop offset=".999" class="g12"/></linearGradient><clipPath id="cB3"><rect x="476.80" y="228.20" width="175.20" height="145.20"/></clipPath><linearGradient id="q80" x2="0" y2="1"><stop offset="0" class="g0"/><stop offset=".997" class="g0"/></linearGradient><linearGradient id="q81" x2="0" y2="1"><stop offset="0" class="g1"/><stop offset=".821" class="g1"/><stop offset=".997" class="g1"/></linearGradient><linearGradient id="q82" x2="0" y2="1"><stop offset="0" class="g14"/><stop offset=".436" class="g19"/><stop offset=".568" class="g29"/><stop offset=".675" class="g3a"/><stop offset=".713" class="g37"/><stop offset=".807" class="g1b"/><stop offset=".904" class="ge"/><stop offset=".997" class="g9"/></linearGradient><linearGradient id="q83" x2="0" y2="1"><stop offset="0" class="g24"/><stop offset=".322" class="g2a"/><stop offset=".426" class="g2b"/><stop offset=".54" class="g3d"/><stop offset=".661" class="g5c"/><stop offset=".699" class="g5c"/><stop offset=".727" class="g51"/><stop offset=".789" class="g30"/><stop offset=".848" class="g1e"/><stop offset=".949" class="g11"/><stop offset=".997" class="gd"/></linearGradient><linearGradient id="q84" x2="0" y2="1"><stop offset="0" class="g32"/><stop offset=".277" class="g3b"/><stop offset=".419" class="g3b"/><stop offset=".519" class="g50"/><stop offset=".658" class="g7e"/><stop offset=".693" class="g80"/><stop offset=".713" class="g79"/><stop offset=".786" class="g43"/><stop offset=".834" class="g2d"/><stop offset=".907" class="g1b"/><stop offset=".997" class="g11"/></linearGradient><linearGradient id="q85" x2="0" y2="1"><stop offset="0" class="g39"/><stop offset=".26" class="g48"/><stop offset=".419" class="g4a"/><stop offset=".509" class="g62"/><stop offset=".589" class="g83"/><stop offset=".654" class="ga0"/><stop offset=".686" class="ga4"/><stop offset=".706" class="g9f"/><stop offset=".731" class="g8b"/><stop offset=".779" class="g5b"/><stop offset=".821" class="g40"/><stop offset=".876" class="g2a"/><stop offset=".963" class="g19"/><stop offset=".997" class="g15"/></linearGradient><linearGradient id="q86" x2="0" y2="1"><stop offset="0" class="g3b"/><stop offset=".284" class="g50"/><stop offset=".416" class="g54"/><stop offset=".499" class="g6d"/><stop offset=".568" class="g8e"/><stop offset=".648" class="gbc"/><stop offset=".679" class="gc4"/><stop offset=".703" class="gc1"/><stop offset=".72" class="gb3"/><stop offset=".776" class="g71"/><stop offset=".81" class="g54"/><stop offset=".855" class="g3b"/><stop offset=".921" class="g26"/><stop offset=".997" class="g19"/></linearGradient><linearGradient id="q87" x2="0" y2="1"><stop offset="0" class="g37"/><stop offset=".149" class="g48"/><stop offset=".35" class="g55"/><stop offset=".416" class="g58"/><stop offset=".495" class="g74"/><stop offset=".561" class="g97"/><stop offset=".648" class="gd0"/><stop offset=".675" class="gda"/><stop offset=".699" class="gd9"/><stop offset=".717" class="gcc"/><stop offset=".779" class="g7c"/><stop offset=".814" class="g5c"/><stop offset=".855" class="g43"/><stop offset=".914" class="g2d"/><stop offset=".997" class="g1c"/></linearGradient><linearGradient id="q88" x2="0" y2="1"><stop offset="0" class="g27"/><stop offset=".215" class="g4b"/><stop offset=".336" class="g55"/><stop offset=".416" class="g5a"/><stop offset=".488" class="g76"/><stop offset=".551" class="g98"/><stop offset=".651" class="ge3"/><stop offset=".679" class="gee"/><stop offset=".699" class="ged"/><stop offset=".713" class="ge4"/><stop offset=".738" class="gc4"/><stop offset=".776" class="g8e"/><stop offset=".807" class="g6d"/><stop offset=".845" class="g52"/><stop offset=".897" class="g39"/><stop offset=".973" class="g25"/><stop offset=".997" class="g20"/></linearGradient><linearGradient id="q89" x2="0" y2="1"><stop offset="0" class="g1b"/><stop offset=".201" class="g3d"/><stop offset=".329" class="g51"/><stop offset=".416" class="g5a"/><stop offset=".492" class="g78"/><stop offset=".551" class="g9b"/><stop offset=".62" class="gd3"/><stop offset=".658" class="gf0"/><stop offset=".682" class="gfa"/><stop offset=".703" class="gf8"/><stop offset=".72" class="ge9"/><stop offset=".779" class="g94"/><stop offset=".81" class="g73"/><stop offset=".848" class="g57"/><stop offset=".9" class="g3e"/><stop offset=".976" class="g28"/><stop offset=".997" class="g24"/></linearGradient><linearGradient id="q90" x2="0" y2="1"><stop offset="0" class="g14"/><stop offset=".17" class="g2b"/><stop offset=".384" class="g50"/><stop offset=".419" class="g57"/><stop offset=".495" class="g78"/><stop offset=".554" class="g9e"/><stop offset=".623" class="gd8"/><stop offset=".661" class="gf6"/><stop offset=".682" class="gff"/><stop offset=".706" class="gfd"/><stop offset=".724" class="geb"/><stop offset=".779" class="g9b"/><stop offset=".81" class="g79"/><stop offset=".848" class="g5c"/><stop offset=".9" class="g43"/><stop offset=".976" class="g2c"/><stop offset=".997" class="g28"/></linearGradient><linearGradient id="q91" x2="0" y2="1"><stop offset="0" class="g10"/><stop offset=".177" class="g23"/><stop offset=".416" class="g4d"/><stop offset=".488" class="g6f"/><stop offset=".547" class="g95"/><stop offset=".609" class="gcb"/><stop offset=".654" class="gf2"/><stop offset=".679" class="gff"/><stop offset=".706" class="gff"/><stop offset=".724" class="gee"/><stop offset=".779" class="g9e"/><stop offset=".81" class="g7d"/><stop offset=".848" class="g60"/><stop offset=".9" class="g46"/><stop offset=".976" class="g2f"/><stop offset=".997" class="g2b"/></linearGradient><linearGradient id="q92" x2="0" y2="1"><stop offset="0" class="gd"/><stop offset=".19" class="g1e"/><stop offset=".412" class="g43"/><stop offset=".481" class="g62"/><stop offset=".54" class="g88"/><stop offset=".596" class="gb8"/><stop offset=".654" class="gef"/><stop offset=".682" class="gff"/><stop offset=".706" class="gfe"/><stop offset=".724" class="gee"/><stop offset=".779" class="g9f"/><stop offset=".81" class="g7e"/><stop offset=".848" class="g62"/><stop offset=".9" class="g48"/><stop offset=".98" class="g31"/><stop offset=".997" class="g2d"/></linearGradient><linearGradient id="q93" x2="0" y2="1"><stop offset="0" class="gb"/><stop offset=".204" class="g1b"/><stop offset=".405" class="g39"/><stop offset=".464" class="g4f"/><stop offset=".523" class="g71"/><stop offset=".575" class="g9b"/><stop offset=".654" class="ge9"/><stop offset=".682" class="gfa"/><stop offset=".699" class="gfd"/><stop offset=".713" class="gf6"/><stop offset=".734" class="gde"/><stop offset=".779" class="g9f"/><stop offset=".814" class="g7b"/><stop offset=".855" class="g5e"/><stop offset=".911" class="g46"/><stop offset=".997" class="g2f"/></linearGradient><linearGradient id="q94" x2="0" y2="1"><stop offset="0" class="g9"/><stop offset=".218" class="g18"/><stop offset=".409" class="g32"/><stop offset=".474" class="g4b"/><stop offset=".53" class="g6c"/><stop offset=".578" class="g93"/><stop offset=".658" class="ge3"/><stop offset=".686" class="gf4"/><stop offset=".703" class="gf6"/><stop offset=".717" class="gee"/><stop offset=".741" class="gd1"/><stop offset=".783" class="g9a"/><stop offset=".817" class="g78"/><stop offset=".859" class="g5d"/><stop offset=".918" class="g44"/><stop offset=".997" class="g30"/></linearGradient><linearGradient id="q95" x2="0" y2="1"><stop offset="0" class="g8"/><stop offset=".229" class="g16"/><stop offset=".412" class="g2d"/><stop offset=".478" class="g45"/><stop offset=".533" class="g64"/><stop offset=".582" class="g8b"/><stop offset=".661" class="gda"/><stop offset=".689" class="geb"/><stop offset=".703" class="ged"/><stop offset=".72" class="ge3"/><stop offset=".751" class="gbd"/><stop offset=".789" class="g90"/><stop offset=".828" class="g6f"/><stop offset=".876" class="g54"/><stop offset=".942" class="g3d"/><stop offset=".997" class="g31"/></linearGradient><linearGradient id="q96" x2="0" y2="1"><stop offset="0" class="g7"/><stop offset=".239" class="g15"/><stop offset=".412" class="g29"/><stop offset=".481" class="g41"/><stop offset=".537" class="g5f"/><stop offset=".585" class="g86"/><stop offset=".665" class="gd4"/><stop offset=".693" class="ge4"/><stop offset=".706" class="ge5"/><stop offset=".724" class="gd9"/><stop offset=".786" class="g90"/><stop offset=".824" class="g70"/><stop offset=".873" class="g55"/><stop offset=".942" class="g3d"/><stop offset=".997" class="g31"/></linearGradient><clipPath id="cC1"><rect x="53.70" y="406.20" width="176.10" height="144.40"/></clipPath><linearGradient id="q97" x2="0" y2="1"><stop offset="0" class="g0"/><stop offset=".8" class="g1"/><stop offset=".997" class="g0"/></linearGradient><linearGradient id="q98" x2="0" y2="1"><stop offset="0" class="g9"/><stop offset=".471" class="g11"/><stop offset=".578" class="g1e"/><stop offset=".682" class="g34"/><stop offset=".713" class="g31"/><stop offset=".789" class="g18"/><stop offset=".88" class="gc"/><stop offset=".997" class="g7"/></linearGradient><linearGradient id="q99" x2="0" y2="1"><stop offset="0" class="g11"/><stop offset=".457" class="g1c"/><stop offset=".554" class="g2c"/><stop offset=".623" class="g42"/><stop offset=".675" class="g54"/><stop offset=".699" class="g54"/><stop offset=".731" class="g45"/><stop offset=".779" class="g2a"/><stop offset=".838" class="g19"/><stop offset=".942" class="gd"/><stop offset=".997" class="ga"/></linearGradient><linearGradient id="q100" x2="0" y2="1"><stop offset="0" class="g18"/><stop offset=".45" class="g27"/><stop offset=".537" class="g38"/><stop offset=".596" class="g4e"/><stop offset=".668" class="g73"/><stop offset=".693" class="g75"/><stop offset=".713" class="g6c"/><stop offset=".769" class="g3f"/><stop offset=".81" class="g2a"/><stop offset=".873" class="g1a"/><stop offset=".987" class="gd"/><stop offset=".997" class="gc"/></linearGradient><linearGradient id="q101" x2="0" y2="1"><stop offset="0" class="g1c"/><stop offset=".329" class="g2c"/><stop offset=".447" class="g31"/><stop offset=".526" class="g44"/><stop offset=".582" class="g5c"/><stop offset=".665" class="g92"/><stop offset=".686" class="g97"/><stop offset=".703" class="g92"/><stop offset=".727" class="g7c"/><stop offset=".765" class="g54"/><stop offset=".8" class="g3c"/><stop offset=".848" class="g27"/><stop offset=".925" class="g17"/><stop offset=".997" class="gf"/></linearGradient><linearGradient id="q102" x2="0" y2="1"><stop offset="0" class="g1e"/><stop offset=".239" class="g2b"/><stop offset=".447" class="g3a"/><stop offset=".519" class="g4e"/><stop offset=".571" class="g67"/><stop offset=".616" class="g88"/><stop offset=".665" class="gb0"/><stop offset=".686" class="gb6"/><stop offset=".699" class="gb3"/><stop offset=".717" class="ga4"/><stop offset=".762" class="g6a"/><stop offset=".793" class="g4d"/><stop offset=".834" class="g35"/><stop offset=".893" class="g22"/><stop offset=".99" class="g13"/><stop offset=".997" class="g12"/></linearGradient><linearGradient id="q103" x2="0" y2="1"><stop offset="0" class="g1c"/><stop offset=".305" class="g32"/><stop offset=".447" class="g3e"/><stop offset=".516" class="g54"/><stop offset=".568" class="g70"/><stop offset=".609" class="g91"/><stop offset=".661" class="gc2"/><stop offset=".682" class="gcd"/><stop offset=".696" class="gcc"/><stop offset=".71" class="gc1"/><stop offset=".741" class="g95"/><stop offset=".772" class="g6c"/><stop offset=".803" class="g50"/><stop offset=".845" class="g38"/><stop offset=".907" class="g24"/><stop offset=".997" class="g15"/></linearGradient><linearGradient id="q104" x2="0" y2="1"><stop offset="0" class="g12"/><stop offset=".111" class="g23"/><stop offset=".443" class="g3f"/><stop offset=".512" class="g55"/><stop offset=".561" class="g6f"/><stop offset=".602" class="g90"/><stop offset=".661" class="gcb"/><stop offset=".682" class="gd6"/><stop offset=".696" class="gd6"/><stop offset=".71" class="gcb"/><stop offset=".738" class="ga2"/><stop offset=".769" class="g76"/><stop offset=".8" class="g57"/><stop offset=".838" class="g3f"/><stop offset=".893" class="g2a"/><stop offset=".98" class="g18"/><stop offset=".997" class="g16"/></linearGradient><linearGradient id="q105" x2="0" y2="1"><stop offset="0" class="ga"/><stop offset=".125" class="g1b"/><stop offset=".232" class="g2d"/><stop offset=".443" class="g40"/><stop offset=".509" class="g56"/><stop offset=".557" class="g71"/><stop offset=".599" class="g93"/><stop offset=".661" class="gd6"/><stop offset=".679" class="ge1"/><stop offset=".696" class="ge1"/><stop offset=".71" class="gd6"/><stop offset=".734" class="gb2"/><stop offset=".765" class="g82"/><stop offset=".793" class="g63"/><stop offset=".828" class="g49"/><stop offset=".876" class="g32"/><stop offset=".949" class="g20"/><stop offset=".997" class="g18"/></linearGradient><linearGradient id="q106" x2="0" y2="1"><stop offset="0" class="g6"/><stop offset=".142" class="g12"/><stop offset=".35" class="g38"/><stop offset=".443" class="g41"/><stop offset=".509" class="g58"/><stop offset=".557" class="g74"/><stop offset=".596" class="g95"/><stop offset=".665" class="ge3"/><stop offset=".682" class="gee"/><stop offset=".696" class="gee"/><stop offset=".71" class="ge3"/><stop offset=".731" class="gc3"/><stop offset=".762" class="g90"/><stop offset=".789" class="g6e"/><stop offset=".824" class="g51"/><stop offset=".869" class="g3a"/><stop offset=".938" class="g25"/><stop offset=".997" class="g1a"/></linearGradient><linearGradient id="q107" x2="0" y2="1"><stop offset="0" class="g4"/><stop offset=".166" class="gd"/><stop offset=".287" class="g21"/><stop offset=".422" class="g3d"/><stop offset=".447" class="g41"/><stop offset=".516" class="g5c"/><stop offset=".561" class="g78"/><stop offset=".599" class="g9b"/><stop offset=".665" class="geb"/><stop offset=".682" class="gf7"/><stop offset=".696" class="gf8"/><stop offset=".71" class="ged"/><stop offset=".731" class="gcc"/><stop offset=".762" class="g98"/><stop offset=".789" class="g75"/><stop offset=".824" class="g57"/><stop offset=".869" class="g3e"/><stop offset=".935" class="g29"/><stop offset=".997" class="g1d"/></linearGradient><linearGradient id="q108" x2="0" y2="1"><stop offset="0" class="g3"/><stop offset=".187" class="gb"/><stop offset=".305" class="g1a"/><stop offset=".447" class="g3b"/><stop offset=".516" class="g5a"/><stop offset=".564" class="g7a"/><stop offset=".602" class="g9f"/><stop offset=".665" class="ged"/><stop offset=".682" class="gfa"/><stop offset=".696" class="gfc"/><stop offset=".71" class="gf1"/><stop offset=".731" class="gd1"/><stop offset=".765" class="g98"/><stop offset=".793" class="g76"/><stop offset=".828" class="g59"/><stop offset=".873" class="g41"/><stop offset=".942" class="g2b"/><stop offset=".997" class="g20"/></linearGradient><linearGradient id="q109" x2="0" y2="1"><stop offset="0" class="g2"/><stop offset=".208" class="ga"/><stop offset=".325" class="g17"/><stop offset=".447" class="g32"/><stop offset=".509" class="g4f"/><stop offset=".557" class="g70"/><stop offset=".596" class="g95"/><stop offset=".641" class="gcf"/><stop offset=".668" class="gf1"/><stop offset=".686" class="gfc"/><stop offset=".699" class="gfb"/><stop offset=".713" class="gee"/><stop offset=".744" class="gbb"/><stop offset=".772" class="g90"/><stop offset=".8" class="g71"/><stop offset=".834" class="g56"/><stop offset=".883" class="g3f"/><stop offset=".959" class="g29"/><stop offset=".997" class="g22"/></linearGradient><linearGradient id="q110" x2="0" y2="1"><stop offset="0" class="g2"/><stop offset=".225" class="g9"/><stop offset=".346" class="g15"/><stop offset=".447" class="g2a"/><stop offset=".506" class="g44"/><stop offset=".551" class="g62"/><stop offset=".589" class="g87"/><stop offset=".627" class="gb7"/><stop offset=".665" class="gea"/><stop offset=".682" class="gf9"/><stop offset=".696" class="gfb"/><stop offset=".71" class="gf2"/><stop offset=".731" class="gd3"/><stop offset=".765" class="g9a"/><stop offset=".793" class="g79"/><stop offset=".828" class="g5c"/><stop offset=".876" class="g43"/><stop offset=".949" class="g2d"/><stop offset=".997" class="g24"/></linearGradient><linearGradient id="q111" x2="0" y2="1"><stop offset="0" class="g1"/><stop offset=".242" class="g8"/><stop offset=".374" class="g15"/><stop offset=".45" class="g24"/><stop offset=".506" class="g3b"/><stop offset=".551" class="g59"/><stop offset=".589" class="g7d"/><stop offset=".623" class="gaa"/><stop offset=".665" class="ge4"/><stop offset=".682" class="gf4"/><stop offset=".696" class="gf7"/><stop offset=".71" class="gef"/><stop offset=".731" class="gd1"/><stop offset=".765" class="g9a"/><stop offset=".793" class="g79"/><stop offset=".828" class="g5c"/><stop offset=".876" class="g44"/><stop offset=".949" class="g2e"/><stop offset=".997" class="g25"/></linearGradient><linearGradient id="q112" x2="0" y2="1"><stop offset="0" class="g1"/><stop offset=".26" class="g8"/><stop offset=".398" class="g15"/><stop offset=".454" class="g20"/><stop offset=".509" class="g35"/><stop offset=".551" class="g50"/><stop offset=".585" class="g6f"/><stop offset=".62" class="g9b"/><stop offset=".665" class="gdb"/><stop offset=".682" class="gec"/><stop offset=".696" class="gf1"/><stop offset=".71" class="ge9"/><stop offset=".731" class="gcd"/><stop offset=".765" class="g98"/><stop offset=".793" class="g78"/><stop offset=".828" class="g5c"/><stop offset=".876" class="g44"/><stop offset=".949" class="g2f"/><stop offset=".997" class="g26"/></linearGradient><linearGradient id="q113" x2="0" y2="1"><stop offset="0" class="g1"/><stop offset=".274" class="g7"/><stop offset=".416" class="g15"/><stop offset=".464" class="g1e"/><stop offset=".519" class="g34"/><stop offset=".561" class="g4f"/><stop offset=".596" class="g71"/><stop offset=".63" class="g9f"/><stop offset=".668" class="gd6"/><stop offset=".686" class="ge6"/><stop offset=".696" class="ge9"/><stop offset=".71" class="ge2"/><stop offset=".731" class="gc7"/><stop offset=".769" class="g90"/><stop offset=".8" class="g70"/><stop offset=".838" class="g55"/><stop offset=".893" class="g3e"/><stop offset=".976" class="g2a"/><stop offset=".997" class="g26"/></linearGradient><clipPath id="cC2"><rect x="265.70" y="406.20" width="175.30" height="144.40"/></clipPath><linearGradient id="q114" x2="0" y2="1"><stop offset="0" class="g0"/><stop offset=".772" class="g1"/><stop offset=".997" class="g0"/></linearGradient><linearGradient id="q115" x2="0" y2="1"><stop offset="0" class="g2"/><stop offset=".426" class="g8"/><stop offset=".575" class="g12"/><stop offset=".634" class="g1f"/><stop offset=".682" class="g35"/><stop offset=".696" class="g31"/><stop offset=".734" class="g1c"/><stop offset=".789" class="g10"/><stop offset=".935" class="g6"/><stop offset=".997" class="g4"/></linearGradient><linearGradient id="q116" x2="0" y2="1"><stop offset="0" class="g5"/><stop offset=".388" class="gc"/><stop offset=".54" class="g19"/><stop offset=".606" class="g27"/><stop offset=".641" class="g37"/><stop offset=".679" class="g56"/><stop offset=".689" class="g55"/><stop offset=".727" class="g32"/><stop offset=".762" class="g21"/><stop offset=".828" class="g13"/><stop offset=".973" class="g7"/><stop offset=".997" class="g6"/></linearGradient><linearGradient id="q117" x2="0" y2="1"><stop offset="0" class="g6"/><stop offset=".353" class="gf"/><stop offset=".492" class="g1b"/><stop offset=".575" class="g2b"/><stop offset=".616" class="g3b"/><stop offset=".644" class="g4f"/><stop offset=".675" class="g73"/><stop offset=".686" class="g77"/><stop offset=".696" class="g6d"/><stop offset=".72" class="g4c"/><stop offset=".744" class="g36"/><stop offset=".783" class="g24"/><stop offset=".852" class="g15"/><stop offset=".99" class="g8"/><stop offset=".997" class="g7"/></linearGradient><linearGradient id="q118" x2="0" y2="1"><stop offset="0" class="g8"/><stop offset=".329" class="g12"/><stop offset=".433" class="g1a"/><stop offset=".537" class="g2c"/><stop offset=".592" class="g3e"/><stop offset=".623" class="g51"/><stop offset=".644" class="g66"/><stop offset=".675" class="g94"/><stop offset=".682" class="g99"/><stop offset=".689" class="g96"/><stop offset=".699" class="g86"/><stop offset=".72" class="g61"/><stop offset=".741" class="g48"/><stop offset=".772" class="g33"/><stop offset=".824" class="g20"/><stop offset=".914" class="g11"/><stop offset=".997" class="g9"/></linearGradient><linearGradient id="q119" x2="0" y2="1"><stop offset="0" class="g8"/><stop offset=".319" class="g13"/><stop offset=".419" class="g1d"/><stop offset=".523" class="g30"/><stop offset=".582" class="g45"/><stop offset=".616" class="g5c"/><stop offset=".637" class="g72"/><stop offset=".654" class="g8d"/><stop offset=".675" class="gb3"/><stop offset=".682" class="gb9"/><stop offset=".689" class="gb5"/><stop offset=".699" class="ga2"/><stop offset=".72" class="g75"/><stop offset=".738" class="g5c"/><stop offset=".762" class="g45"/><stop offset=".8" class="g30"/><stop offset=".862" class="g1d"/><stop offset=".97" class="gd"/><stop offset=".997" class="gb"/></linearGradient><linearGradient id="q120" x2="0" y2="1"><stop offset="0" class="g8"/><stop offset=".315" class="g14"/><stop offset=".412" class="g1e"/><stop offset=".512" class="g33"/><stop offset=".571" class="g49"/><stop offset=".606" class="g5f"/><stop offset=".63" class="g78"/><stop offset=".648" class="g93"/><stop offset=".675" class="gce"/><stop offset=".682" class="gd5"/><stop offset=".689" class="gd1"/><stop offset=".699" class="gbb"/><stop offset=".717" class="g8f"/><stop offset=".734" class="g70"/><stop offset=".755" class="g57"/><stop offset=".786" class="g3f"/><stop offset=".834" class="g2a"/><stop offset=".914" class="g18"/><stop offset=".997" class="gd"/></linearGradient><linearGradient id="q121" x2="0" y2="1"><stop offset="0" class="g3"/><stop offset=".329" class="g16"/><stop offset=".412" class="g1f"/><stop offset=".509" class="g35"/><stop offset=".564" class="g4b"/><stop offset=".599" class="g61"/><stop offset=".623" class="g79"/><stop offset=".641" class="g93"/><stop offset=".658" class="gb9"/><stop offset=".675" class="ge2"/><stop offset=".682" class="gea"/><stop offset=".689" class="ge6"/><stop offset=".696" class="gd8"/><stop offset=".717" class="g9f"/><stop offset=".731" class="g82"/><stop offset=".748" class="g69"/><stop offset=".772" class="g51"/><stop offset=".81" class="g3a"/><stop offset=".873" class="g24"/><stop offset=".97" class="g12"/><stop offset=".997" class="gf"/></linearGradient><linearGradient id="q122" x2="0" y2="1"><stop offset="0" class="g2"/><stop offset=".197" class="g9"/><stop offset=".391" class="g1c"/><stop offset=".492" class="g31"/><stop offset=".554" class="g48"/><stop offset=".592" class="g5f"/><stop offset=".616" class="g76"/><stop offset=".634" class="g8f"/><stop offset=".651" class="gb1"/><stop offset=".675" class="gf0"/><stop offset=".682" class="gf8"/><stop offset=".686" class="gf8"/><stop offset=".693" class="gee"/><stop offset=".717" class="gaa"/><stop offset=".731" class="g8b"/><stop offset=".748" class="g71"/><stop offset=".772" class="g58"/><stop offset=".81" class="g3f"/><stop offset=".869" class="g29"/><stop offset=".963" class="g15"/><stop offset=".997" class="g10"/></linearGradient><linearGradient id="q123" x2="0" y2="1"><stop offset="0" class="g1"/><stop offset=".225" class="g7"/><stop offset=".336" class="g12"/><stop offset=".422" class="g20"/><stop offset=".516" class="g39"/><stop offset=".568" class="g50"/><stop offset=".602" class="g6a"/><stop offset=".623" class="g82"/><stop offset=".641" class="g9f"/><stop offset=".654" class="gbf"/><stop offset=".672" class="gf0"/><stop offset=".679" class="gfd"/><stop offset=".686" class="gff"/><stop offset=".689" class="gfd"/><stop offset=".696" class="gee"/><stop offset=".717" class="gb1"/><stop offset=".731" class="g92"/><stop offset=".748" class="g76"/><stop offset=".772" class="g5c"/><stop offset=".81" class="g43"/><stop offset=".869" class="g2c"/><stop offset=".963" class="g17"/><stop offset=".997" class="g12"/></linearGradient><linearGradient id="q124" x2="0" y2="1"><stop offset="0" class="g1"/><stop offset=".256" class="g7"/><stop offset=".388" class="g15"/><stop offset=".488" class="g2e"/><stop offset=".554" class="g48"/><stop offset=".592" class="g61"/><stop offset=".616" class="g79"/><stop offset=".634" class="g92"/><stop offset=".648" class="gaf"/><stop offset=".665" class="gde"/><stop offset=".675" class="gfa"/><stop offset=".679" class="gff"/><stop offset=".689" class="gff"/><stop offset=".693" class="gfa"/><stop offset=".706" class="gd2"/><stop offset=".72" class="gab"/><stop offset=".734" class="g8e"/><stop offset=".751" class="g75"/><stop offset=".779" class="g5a"/><stop offset=".821" class="g41"/><stop offset=".886" class="g29"/><stop offset=".987" class="g15"/><stop offset=".997" class="g14"/></linearGradient><linearGradient id="q125" x2="0" y2="1"><stop offset="0" class="g1"/><stop offset=".284" class="g6"/><stop offset=".402" class="g13"/><stop offset=".488" class="g29"/><stop offset=".551" class="g43"/><stop offset=".589" class="g5c"/><stop offset=".616" class="g78"/><stop offset=".634" class="g92"/><stop offset=".648" class="gaf"/><stop offset=".665" class="gdf"/><stop offset=".675" class="gfb"/><stop offset=".679" class="gff"/><stop offset=".689" class="gff"/><stop offset=".693" class="gfb"/><stop offset=".706" class="gd3"/><stop offset=".72" class="gac"/><stop offset=".734" class="g8f"/><stop offset=".751" class="g76"/><stop offset=".779" class="g5b"/><stop offset=".821" class="g42"/><stop offset=".886" class="g2b"/><stop offset=".99" class="g16"/><stop offset=".997" class="g15"/></linearGradient><linearGradient id="q126" x2="0" y2="1"><stop offset="0" class="g0"/><stop offset=".298" class="g6"/><stop offset=".409" class="g11"/><stop offset=".488" class="g24"/><stop offset=".547" class="g3d"/><stop offset=".589" class="g58"/><stop offset=".616" class="g74"/><stop offset=".634" class="g8f"/><stop offset=".648" class="gac"/><stop offset=".665" class="gdc"/><stop offset=".675" class="gf8"/><stop offset=".679" class="gff"/><stop offset=".689" class="gff"/><stop offset=".693" class="gfa"/><stop offset=".706" class="gd2"/><stop offset=".72" class="gac"/><stop offset=".734" class="g8f"/><stop offset=".755" class="g72"/><stop offset=".783" class="g59"/><stop offset=".824" class="g41"/><stop offset=".893" class="g2a"/><stop offset=".997" class="g16"/></linearGradient><linearGradient id="q127" x2="0" y2="1"><stop offset="0" class="g0"/><stop offset=".312" class="g6"/><stop offset=".416" class="gf"/><stop offset=".492" class="g20"/><stop offset=".547" class="g37"/><stop offset=".589" class="g52"/><stop offset=".616" class="g6f"/><stop offset=".634" class="g89"/><stop offset=".648" class="ga6"/><stop offset=".665" class="gd7"/><stop offset=".675" class="gf3"/><stop offset=".682" class="gfe"/><stop offset=".686" class="gfe"/><stop offset=".693" class="gf6"/><stop offset=".706" class="gd0"/><stop offset=".72" class="gaa"/><stop offset=".734" class="g8e"/><stop offset=".755" class="g71"/><stop offset=".783" class="g59"/><stop offset=".824" class="g42"/><stop offset=".893" class="g2b"/><stop offset=".997" class="g17"/></linearGradient><linearGradient id="q128" x2="0" y2="1"><stop offset="0" class="g0"/><stop offset=".325" class="g5"/><stop offset=".426" class="ge"/><stop offset=".502" class="g1f"/><stop offset=".554" class="g35"/><stop offset=".592" class="g4f"/><stop offset=".616" class="g68"/><stop offset=".634" class="g82"/><stop offset=".648" class="g9f"/><stop offset=".665" class="gcf"/><stop offset=".675" class="gec"/><stop offset=".682" class="gf7"/><stop offset=".686" class="gf7"/><stop offset=".693" class="gef"/><stop offset=".706" class="gcb"/><stop offset=".72" class="ga7"/><stop offset=".738" class="g86"/><stop offset=".758" class="g6c"/><stop offset=".789" class="g53"/><stop offset=".838" class="g3c"/><stop offset=".918" class="g25"/><stop offset=".997" class="g17"/></linearGradient><linearGradient id="q129" x2="0" y2="1"><stop offset="0" class="g0"/><stop offset=".332" class="g5"/><stop offset=".436" class="gf"/><stop offset=".509" class="g1f"/><stop offset=".561" class="g35"/><stop offset=".596" class="g4e"/><stop offset=".62" class="g68"/><stop offset=".637" class="g84"/><stop offset=".651" class="ga2"/><stop offset=".675" class="ge6"/><stop offset=".682" class="gf1"/><stop offset=".686" class="gf2"/><stop offset=".693" class="gea"/><stop offset=".706" class="gc7"/><stop offset=".72" class="ga4"/><stop offset=".738" class="g84"/><stop offset=".758" class="g6b"/><stop offset=".789" class="g53"/><stop offset=".838" class="g3c"/><stop offset=".918" class="g26"/><stop offset=".997" class="g18"/></linearGradient><clipPath id="cC3"><rect x="476.80" y="406.20" width="175.20" height="144.40"/></clipPath><linearGradient id="q130" x2="0" y2="1"><stop offset="0" class="g2"/><stop offset=".551" class="g6"/><stop offset=".725" class="g9"/><stop offset=".941" class="g2"/><stop offset=".997" class="g2"/></linearGradient><linearGradient id="q131" x2="0" y2="1"><stop offset="0" class="g13"/><stop offset=".439" class="g19"/><stop offset=".572" class="g29"/><stop offset=".676" class="g39"/><stop offset=".715" class="g36"/><stop offset=".805" class="g1b"/><stop offset=".903" class="ge"/><stop offset=".997" class="g9"/></linearGradient><linearGradient id="q132" x2="0" y2="1"><stop offset="0" class="g24"/><stop offset=".324" class="g2a"/><stop offset=".425" class="g2a"/><stop offset=".54" class="g3d"/><stop offset=".662" class="g5b"/><stop offset=".701" class="g5b"/><stop offset=".732" class="g4e"/><stop offset=".791" class="g2f"/><stop offset=".854" class="g1d"/><stop offset=".959" class="g10"/><stop offset=".997" class="gd"/></linearGradient><linearGradient id="q133" x2="0" y2="1"><stop offset="0" class="g31"/><stop offset=".275" class="g3b"/><stop offset=".418" class="g3b"/><stop offset=".52" class="g50"/><stop offset=".659" class="g7e"/><stop offset=".694" class="g7f"/><stop offset=".715" class="g77"/><stop offset=".785" class="g44"/><stop offset=".833" class="g2d"/><stop offset=".903" class="g1c"/><stop offset=".997" class="g11"/></linearGradient><linearGradient id="q134" x2="0" y2="1"><stop offset="0" class="g39"/><stop offset=".258" class="g48"/><stop offset=".418" class="g4a"/><stop offset=".509" class="g62"/><stop offset=".589" class="g83"/><stop offset=".652" class="g9f"/><stop offset=".683" class="ga4"/><stop offset=".704" class="ga0"/><stop offset=".725" class="g90"/><stop offset=".778" class="g5c"/><stop offset=".816" class="g42"/><stop offset=".868" class="g2c"/><stop offset=".948" class="g1b"/><stop offset=".997" class="g14"/></linearGradient><linearGradient id="q135" x2="0" y2="1"><stop offset="0" class="g3b"/><stop offset=".282" class="g50"/><stop offset=".418" class="g54"/><stop offset=".502" class="g6f"/><stop offset=".572" class="g91"/><stop offset=".649" class="gbc"/><stop offset=".68" class="gc4"/><stop offset=".701" class="gc2"/><stop offset=".718" class="gb5"/><stop offset=".778" class="g70"/><stop offset=".812" class="g52"/><stop offset=".858" class="g3a"/><stop offset=".924" class="g25"/><stop offset=".997" class="g19"/></linearGradient><linearGradient id="q136" x2="0" y2="1"><stop offset="0" class="g37"/><stop offset=".146" class="g48"/><stop offset=".349" class="g55"/><stop offset=".415" class="g58"/><stop offset=".495" class="g74"/><stop offset=".561" class="g97"/><stop offset=".649" class="gd1"/><stop offset=".676" class="gda"/><stop offset=".701" class="gd8"/><stop offset=".718" class="gcb"/><stop offset=".778" class="g7e"/><stop offset=".812" class="g5d"/><stop offset=".854" class="g44"/><stop offset=".914" class="g2e"/><stop offset=".997" class="g1c"/></linearGradient><linearGradient id="q137" x2="0" y2="1"><stop offset="0" class="g27"/><stop offset=".216" class="g4b"/><stop offset=".335" class="g55"/><stop offset=".415" class="g5a"/><stop offset=".488" class="g76"/><stop offset=".547" class="g96"/><stop offset=".652" class="ge3"/><stop offset=".68" class="gee"/><stop offset=".701" class="ged"/><stop offset=".718" class="gdf"/><stop offset=".778" class="g8c"/><stop offset=".809" class="g6c"/><stop offset=".847" class="g50"/><stop offset=".9" class="g39"/><stop offset=".98" class="g23"/><stop offset=".997" class="g20"/></linearGradient><linearGradient id="q138" x2="0" y2="1"><stop offset="0" class="g1b"/><stop offset=".195" class="g3c"/><stop offset=".328" class="g51"/><stop offset=".418" class="g5b"/><stop offset=".492" class="g78"/><stop offset=".547" class="g99"/><stop offset=".61" class="gcb"/><stop offset=".656" class="gef"/><stop offset=".68" class="gf9"/><stop offset=".701" class="gf9"/><stop offset=".715" class="gef"/><stop offset=".739" class="gce"/><stop offset=".778" class="g96"/><stop offset=".809" class="g74"/><stop offset=".847" class="g58"/><stop offset=".9" class="g3e"/><stop offset=".976" class="g28"/><stop offset=".997" class="g24"/></linearGradient><linearGradient id="q139" x2="0" y2="1"><stop offset="0" class="g14"/><stop offset=".167" class="g2a"/><stop offset=".391" class="g51"/><stop offset=".418" class="g56"/><stop offset=".495" class="g78"/><stop offset=".554" class="g9e"/><stop offset=".624" class="gd9"/><stop offset=".662" class="gf7"/><stop offset=".683" class="gff"/><stop offset=".704" class="gfe"/><stop offset=".722" class="gee"/><stop offset=".778" class="g9d"/><stop offset=".809" class="g7a"/><stop offset=".847" class="g5d"/><stop offset=".9" class="g43"/><stop offset=".976" class="g2c"/><stop offset=".997" class="g28"/></linearGradient><linearGradient id="q140" x2="0" y2="1"><stop offset="0" class="gf"/><stop offset=".178" class="g23"/><stop offset=".418" class="g4e"/><stop offset=".492" class="g70"/><stop offset=".551" class="g98"/><stop offset=".621" class="gd5"/><stop offset=".659" class="gf5"/><stop offset=".68" class="gff"/><stop offset=".708" class="gfe"/><stop offset=".725" class="gec"/><stop offset=".778" class="ga0"/><stop offset=".809" class="g7e"/><stop offset=".847" class="g61"/><stop offset=".9" class="g46"/><stop offset=".976" class="g2f"/><stop offset=".997" class="g2b"/></linearGradient><linearGradient id="q141" x2="0" y2="1"><stop offset="0" class="gd"/><stop offset=".192" class="g1e"/><stop offset=".411" class="g42"/><stop offset=".481" class="g61"/><stop offset=".537" class="g85"/><stop offset=".593" class="gb5"/><stop offset=".652" class="ged"/><stop offset=".68" class="gfe"/><stop offset=".708" class="gfd"/><stop offset=".725" class="gec"/><stop offset=".778" class="ga1"/><stop offset=".809" class="g7f"/><stop offset=".847" class="g62"/><stop offset=".9" class="g49"/><stop offset=".98" class="g31"/><stop offset=".997" class="g2d"/></linearGradient><linearGradient id="q142" x2="0" y2="1"><stop offset="0" class="gb"/><stop offset=".206" class="g1b"/><stop offset=".408" class="g39"/><stop offset=".471" class="g52"/><stop offset=".526" class="g73"/><stop offset=".579" class="g9f"/><stop offset=".656" class="ge9"/><stop offset=".683" class="gfa"/><stop offset=".701" class="gfd"/><stop offset=".715" class="gf5"/><stop offset=".736" class="gdc"/><stop offset=".778" class="ga1"/><stop offset=".809" class="g80"/><stop offset=".847" class="g63"/><stop offset=".9" class="g4a"/><stop offset=".98" class="g33"/><stop offset=".997" class="g2f"/></linearGradient><linearGradient id="q143" x2="0" y2="1"><stop offset="0" class="g9"/><stop offset=".216" class="g18"/><stop offset=".408" class="g32"/><stop offset=".471" class="g49"/><stop offset=".526" class="g69"/><stop offset=".575" class="g90"/><stop offset=".659" class="ge3"/><stop offset=".683" class="gf2"/><stop offset=".701" class="gf6"/><stop offset=".715" class="gef"/><stop offset=".736" class="gd8"/><stop offset=".781" class="g9b"/><stop offset=".816" class="g79"/><stop offset=".858" class="g5d"/><stop offset=".917" class="g44"/><stop offset=".997" class="g30"/></linearGradient><linearGradient id="q144" x2="0" y2="1"><stop offset="0" class="g8"/><stop offset=".23" class="g16"/><stop offset=".411" class="g2c"/><stop offset=".478" class="g44"/><stop offset=".533" class="g64"/><stop offset=".582" class="g8b"/><stop offset=".662" class="gda"/><stop offset=".687" class="gea"/><stop offset=".701" class="ged"/><stop offset=".715" class="ge7"/><stop offset=".736" class="gd1"/><stop offset=".781" class="g98"/><stop offset=".816" class="g78"/><stop offset=".861" class="g5b"/><stop offset=".924" class="g42"/><stop offset=".997" class="g31"/></linearGradient><linearGradient id="q145" x2="0" y2="1"><stop offset="0" class="g7"/><stop offset=".241" class="g15"/><stop offset=".415" class="g29"/><stop offset=".481" class="g41"/><stop offset=".533" class="g5d"/><stop offset=".582" class="g83"/><stop offset=".666" class="gd5"/><stop offset=".69" class="ge3"/><stop offset=".704" class="ge5"/><stop offset=".722" class="gdb"/><stop offset=".788" class="g8e"/><stop offset=".826" class="g6e"/><stop offset=".875" class="g54"/><stop offset=".945" class="g3d"/><stop offset=".997" class="g31"/></linearGradient><clipPath id="cD1"><rect x="55.10" y="585.00" width="174.90" height="143.40"/></clipPath><linearGradient id="q146" x2="0" y2="1"><stop offset="0" class="g1"/><stop offset=".851" class="g1"/><stop offset=".997" class="g1"/></linearGradient><linearGradient id="q147" x2="0" y2="1"><stop offset="0" class="g13"/><stop offset=".384" class="g1d"/><stop offset=".586" class="g2c"/><stop offset=".704" class="g36"/><stop offset=".743" class="g32"/><stop offset=".823" class="g1b"/><stop offset=".924" class="gf"/><stop offset=".997" class="gb"/></linearGradient><linearGradient id="q148" x2="0" y2="1"><stop offset="0" class="g24"/><stop offset=".331" class="g30"/><stop offset=".513" class="g41"/><stop offset=".68" class="g58"/><stop offset=".729" class="g56"/><stop offset=".764" class="g46"/><stop offset=".816" class="g2d"/><stop offset=".882" class="g1d"/><stop offset=".997" class="g10"/></linearGradient><linearGradient id="q149" x2="0" y2="1"><stop offset="0" class="g32"/><stop offset=".303" class="g42"/><stop offset=".474" class="g55"/><stop offset=".669" class="g79"/><stop offset=".722" class="g78"/><stop offset=".743" class="g6f"/><stop offset=".802" class="g45"/><stop offset=".851" class="g2f"/><stop offset=".924" class="g1e"/><stop offset=".997" class="g15"/></linearGradient><linearGradient id="q150" x2="0" y2="1"><stop offset="0" class="g3b"/><stop offset=".275" class="g50"/><stop offset=".439" class="g66"/><stop offset=".568" class="g83"/><stop offset=".662" class="g9a"/><stop offset=".708" class="g9c"/><stop offset=".732" class="g96"/><stop offset=".757" class="g81"/><stop offset=".798" class="g5a"/><stop offset=".84" class="g40"/><stop offset=".896" class="g2c"/><stop offset=".987" class="g1b"/><stop offset=".997" class="g1a"/></linearGradient><linearGradient id="q151" x2="0" y2="1"><stop offset="0" class="g3e"/><stop offset=".241" class="g54"/><stop offset=".401" class="g6e"/><stop offset=".52" class="g8c"/><stop offset=".659" class="gb9"/><stop offset=".701" class="gbd"/><stop offset=".729" class="gb8"/><stop offset=".746" class="ga9"/><stop offset=".795" class="g71"/><stop offset=".83" class="g55"/><stop offset=".875" class="g3d"/><stop offset=".945" class="g28"/><stop offset=".997" class="g1f"/></linearGradient><linearGradient id="q152" x2="0" y2="1"><stop offset="0" class="g3b"/><stop offset=".272" class="g5b"/><stop offset=".411" class="g77"/><stop offset=".52" class="g97"/><stop offset=".656" class="gcb"/><stop offset=".697" class="gd1"/><stop offset=".729" class="gcd"/><stop offset=".746" class="gbd"/><stop offset=".795" class="g7f"/><stop offset=".83" class="g5f"/><stop offset=".875" class="g45"/><stop offset=".938" class="g2f"/><stop offset=".997" class="g23"/></linearGradient><linearGradient id="q153" x2="0" y2="1"><stop offset="0" class="g2b"/><stop offset=".153" class="g4b"/><stop offset=".331" class="g67"/><stop offset=".45" class="g84"/><stop offset=".547" class="ga8"/><stop offset=".656" class="gd7"/><stop offset=".697" class="gdf"/><stop offset=".725" class="gdc"/><stop offset=".739" class="gd2"/><stop offset=".798" class="g85"/><stop offset=".833" class="g64"/><stop offset=".879" class="g49"/><stop offset=".941" class="g33"/><stop offset=".997" class="g26"/></linearGradient><linearGradient id="q154" x2="0" y2="1"><stop offset="0" class="g1c"/><stop offset=".126" class="g37"/><stop offset=".31" class="g63"/><stop offset=".429" class="g80"/><stop offset=".523" class="ga3"/><stop offset=".659" class="ge4"/><stop offset=".697" class="ged"/><stop offset=".725" class="geb"/><stop offset=".739" class="ge1"/><stop offset=".767" class="gba"/><stop offset=".798" class="g8f"/><stop offset=".83" class="g70"/><stop offset=".872" class="g54"/><stop offset=".931" class="g3b"/><stop offset=".997" class="g2a"/></linearGradient><linearGradient id="q155" x2="0" y2="1"><stop offset="0" class="g12"/><stop offset=".126" class="g24"/><stop offset=".241" class="g42"/><stop offset=".478" class="g91"/><stop offset=".561" class="gb8"/><stop offset=".662" class="gee"/><stop offset=".701" class="gf9"/><stop offset=".725" class="gf8"/><stop offset=".739" class="gee"/><stop offset=".764" class="gcc"/><stop offset=".798" class="g9a"/><stop offset=".83" class="g79"/><stop offset=".872" class="g5b"/><stop offset=".927" class="g42"/><stop offset=".997" class="g2f"/></linearGradient><linearGradient id="q156" x2="0" y2="1"><stop offset="0" class="gd"/><stop offset=".139" class="g1c"/><stop offset=".244" class="g32"/><stop offset=".349" class="g55"/><stop offset=".488" class="g92"/><stop offset=".596" class="gcc"/><stop offset=".669" class="gf5"/><stop offset=".704" class="gff"/><stop offset=".729" class="gfe"/><stop offset=".743" class="gf2"/><stop offset=".798" class="ga1"/><stop offset=".83" class="g80"/><stop offset=".868" class="g63"/><stop offset=".924" class="g49"/><stop offset=".997" class="g33"/></linearGradient><linearGradient id="q157" x2="0" y2="1"><stop offset="0" class="ga"/><stop offset=".157" class="g18"/><stop offset=".265" class="g2c"/><stop offset=".356" class="g48"/><stop offset=".45" class="g72"/><stop offset=".551" class="gad"/><stop offset=".659" class="gf1"/><stop offset=".694" class="gff"/><stop offset=".732" class="gff"/><stop offset=".75" class="gec"/><stop offset=".795" class="gaa"/><stop offset=".826" class="g87"/><stop offset=".865" class="g6a"/><stop offset=".917" class="g50"/><stop offset=".997" class="g37"/></linearGradient><linearGradient id="q158" x2="0" y2="1"><stop offset="0" class="g8"/><stop offset=".171" class="g14"/><stop offset=".282" class="g27"/><stop offset=".37" class="g40"/><stop offset=".45" class="g63"/><stop offset=".53" class="g93"/><stop offset=".659" class="gee"/><stop offset=".697" class="gff"/><stop offset=".732" class="gff"/><stop offset=".746" class="gf1"/><stop offset=".798" class="ga7"/><stop offset=".83" class="g86"/><stop offset=".872" class="g68"/><stop offset=".931" class="g4d"/><stop offset=".997" class="g3a"/></linearGradient><linearGradient id="q159" x2="0" y2="1"><stop offset="0" class="g7"/><stop offset=".185" class="g12"/><stop offset=".3" class="g23"/><stop offset=".387" class="g3b"/><stop offset=".46" class="g5b"/><stop offset=".53" class="g85"/><stop offset=".662" class="ge9"/><stop offset=".701" class="gfc"/><stop offset=".729" class="gff"/><stop offset=".743" class="gf4"/><stop offset=".778" class="gc3"/><stop offset=".809" class="g9b"/><stop offset=".844" class="g7b"/><stop offset=".889" class="g60"/><stop offset=".955" class="g47"/><stop offset=".997" class="g3c"/></linearGradient><linearGradient id="q160" x2="0" y2="1"><stop offset="0" class="g6"/><stop offset=".199" class="g11"/><stop offset=".317" class="g21"/><stop offset=".404" class="g38"/><stop offset=".474" class="g56"/><stop offset=".537" class="g7c"/><stop offset=".617" class="gbb"/><stop offset=".673" class="ge6"/><stop offset=".708" class="gf7"/><stop offset=".729" class="gfa"/><stop offset=".743" class="gf0"/><stop offset=".774" class="gc6"/><stop offset=".805" class="g9e"/><stop offset=".84" class="g7e"/><stop offset=".886" class="g62"/><stop offset=".952" class="g4a"/><stop offset=".997" class="g3e"/></linearGradient><linearGradient id="q161" x2="0" y2="1"><stop offset="0" class="g5"/><stop offset=".209" class="gf"/><stop offset=".331" class="g1f"/><stop offset=".418" class="g35"/><stop offset=".488" class="g52"/><stop offset=".551" class="g78"/><stop offset=".628" class="gb6"/><stop offset=".68" class="gdf"/><stop offset=".715" class="gf1"/><stop offset=".729" class="gf2"/><stop offset=".743" class="gea"/><stop offset=".774" class="gc2"/><stop offset=".809" class="g98"/><stop offset=".844" class="g7b"/><stop offset=".893" class="g5f"/><stop offset=".962" class="g47"/><stop offset=".997" class="g3f"/></linearGradient><linearGradient id="q162" x2="0" y2="1"><stop offset="0" class="g5"/><stop offset=".216" class="gf"/><stop offset=".338" class="g1e"/><stop offset=".425" class="g34"/><stop offset=".495" class="g50"/><stop offset=".554" class="g74"/><stop offset=".624" class="gac"/><stop offset=".683" class="gdb"/><stop offset=".718" class="ged"/><stop offset=".732" class="ged"/><stop offset=".75" class="gde"/><stop offset=".802" class="g9e"/><stop offset=".837" class="g7f"/><stop offset=".882" class="g64"/><stop offset=".948" class="g4b"/><stop offset=".997" class="g3f"/></linearGradient><clipPath id="cD2"><rect x="265.70" y="585.00" width="175.30" height="143.40"/></clipPath><linearGradient id="q163" x2="0" y2="1"><stop offset="0" class="g1"/><stop offset=".921" class="g1"/><stop offset=".997" class="g1"/></linearGradient><linearGradient id="q164" x2="0" y2="1"><stop offset="0" class="g14"/><stop offset=".401" class="g1c"/><stop offset=".593" class="g2c"/><stop offset=".708" class="g36"/><stop offset=".75" class="g33"/><stop offset=".844" class="g1a"/><stop offset=".955" class="ge"/><stop offset=".997" class="gb"/></linearGradient><linearGradient id="q165" x2="0" y2="1"><stop offset="0" class="g28"/><stop offset=".38" class="g31"/><stop offset=".54" class="g43"/><stop offset=".68" class="g59"/><stop offset=".732" class="g58"/><stop offset=".767" class="g4b"/><stop offset=".83" class="g2e"/><stop offset=".9" class="g1c"/><stop offset=".997" class="g11"/></linearGradient><linearGradient id="q166" x2="0" y2="1"><stop offset="0" class="g37"/><stop offset=".359" class="g44"/><stop offset=".478" class="g53"/><stop offset=".673" class="g7b"/><stop offset=".722" class="g7b"/><stop offset=".746" class="g74"/><stop offset=".819" class="g43"/><stop offset=".872" class="g2d"/><stop offset=".948" class="g1c"/><stop offset=".997" class="g16"/></linearGradient><linearGradient id="q167" x2="0" y2="1"><stop offset="0" class="g40"/><stop offset=".331" class="g53"/><stop offset=".404" class="g5b"/><stop offset=".526" class="g76"/><stop offset=".662" class="g9d"/><stop offset=".708" class="ga0"/><stop offset=".736" class="g9b"/><stop offset=".76" class="g8a"/><stop offset=".812" class="g5b"/><stop offset=".854" class="g41"/><stop offset=".914" class="g2c"/><stop offset=".997" class="g1b"/></linearGradient><linearGradient id="q168" x2="0" y2="1"><stop offset="0" class="g42"/><stop offset=".3" class="g59"/><stop offset=".397" class="g66"/><stop offset=".509" class="g84"/><stop offset=".662" class="gbc"/><stop offset=".704" class="gc1"/><stop offset=".732" class="gbd"/><stop offset=".753" class="gae"/><stop offset=".812" class="g6f"/><stop offset=".851" class="g52"/><stop offset=".9" class="g3a"/><stop offset=".973" class="g25"/><stop offset=".997" class="g20"/></linearGradient><linearGradient id="q169" x2="0" y2="1"><stop offset="0" class="g3e"/><stop offset=".314" class="g5e"/><stop offset=".394" class="g6b"/><stop offset=".495" class="g8a"/><stop offset=".6" class="gb9"/><stop offset=".666" class="gd5"/><stop offset=".704" class="gdc"/><stop offset=".732" class="gd8"/><stop offset=".75" class="gcb"/><stop offset=".812" class="g80"/><stop offset=".851" class="g5f"/><stop offset=".896" class="g45"/><stop offset=".962" class="g2e"/><stop offset=".997" class="g26"/></linearGradient><linearGradient id="q170" x2="0" y2="1"><stop offset="0" class="g34"/><stop offset=".335" class="g61"/><stop offset=".397" class="g6d"/><stop offset=".492" class="g8d"/><stop offset=".579" class="gb7"/><stop offset=".662" class="ge4"/><stop offset=".701" class="gee"/><stop offset=".732" class="gec"/><stop offset=".75" class="gdf"/><stop offset=".812" class="g8f"/><stop offset=".847" class="g6d"/><stop offset=".893" class="g50"/><stop offset=".952" class="g38"/><stop offset=".997" class="g2c"/></linearGradient><linearGradient id="q171" x2="0" y2="1"><stop offset="0" class="g29"/><stop offset=".206" class="g46"/><stop offset=".356" class="g61"/><stop offset=".411" class="g70"/><stop offset=".506" class="g94"/><stop offset=".586" class="gbf"/><stop offset=".666" class="ged"/><stop offset=".704" class="gf9"/><stop offset=".732" class="gf9"/><stop offset=".75" class="gec"/><stop offset=".785" class="gbe"/><stop offset=".819" class="g92"/><stop offset=".854" class="g71"/><stop offset=".9" class="g54"/><stop offset=".962" class="g3a"/><stop offset=".997" class="g31"/></linearGradient><linearGradient id="q172" x2="0" y2="1"><stop offset="0" class="g21"/><stop offset=".188" class="g39"/><stop offset=".324" class="g53"/><stop offset=".397" class="g65"/><stop offset=".492" class="g8b"/><stop offset=".575" class="gb8"/><stop offset=".669" class="gf2"/><stop offset=".708" class="gff"/><stop offset=".736" class="gfe"/><stop offset=".753" class="gef"/><stop offset=".816" class="g9d"/><stop offset=".851" class="g7a"/><stop offset=".896" class="g5c"/><stop offset=".955" class="g42"/><stop offset=".997" class="g35"/></linearGradient><linearGradient id="q173" x2="0" y2="1"><stop offset="0" class="g1b"/><stop offset=".185" class="g30"/><stop offset=".317" class="g48"/><stop offset=".397" class="g5c"/><stop offset=".485" class="g80"/><stop offset=".565" class="gae"/><stop offset=".666" class="gf0"/><stop offset=".701" class="gfe"/><stop offset=".739" class="gfe"/><stop offset=".757" class="gee"/><stop offset=".816" class="ga0"/><stop offset=".851" class="g7e"/><stop offset=".896" class="g60"/><stop offset=".959" class="g45"/><stop offset=".997" class="g39"/></linearGradient><linearGradient id="q174" x2="0" y2="1"><stop offset="0" class="g17"/><stop offset=".192" class="g2a"/><stop offset=".321" class="g3f"/><stop offset=".397" class="g53"/><stop offset=".481" class="g75"/><stop offset=".554" class="g9f"/><stop offset=".669" class="gee"/><stop offset=".708" class="gff"/><stop offset=".739" class="gfe"/><stop offset=".757" class="gee"/><stop offset=".816" class="ga2"/><stop offset=".851" class="g80"/><stop offset=".896" class="g62"/><stop offset=".959" class="g47"/><stop offset=".997" class="g3c"/></linearGradient><linearGradient id="q175" x2="0" y2="1"><stop offset="0" class="g13"/><stop offset=".199" class="g25"/><stop offset=".324" class="g38"/><stop offset=".397" class="g49"/><stop offset=".478" class="g69"/><stop offset=".547" class="g90"/><stop offset=".676" class="gec"/><stop offset=".711" class="gfb"/><stop offset=".732" class="gfd"/><stop offset=".75" class="gf4"/><stop offset=".778" class="gd2"/><stop offset=".819" class="g9e"/><stop offset=".854" class="g7e"/><stop offset=".9" class="g62"/><stop offset=".966" class="g47"/><stop offset=".997" class="g3e"/></linearGradient><linearGradient id="q176" x2="0" y2="1"><stop offset="0" class="g11"/><stop offset=".206" class="g21"/><stop offset=".331" class="g33"/><stop offset=".404" class="g43"/><stop offset=".481" class="g61"/><stop offset=".547" class="g85"/><stop offset=".628" class="gbf"/><stop offset=".683" class="ge7"/><stop offset=".718" class="gf5"/><stop offset=".736" class="gf7"/><stop offset=".753" class="gec"/><stop offset=".795" class="gb9"/><stop offset=".833" class="g8f"/><stop offset=".875" class="g70"/><stop offset=".927" class="g56"/><stop offset=".997" class="g3f"/></linearGradient><linearGradient id="q177" x2="0" y2="1"><stop offset="0" class="gf"/><stop offset=".213" class="g1e"/><stop offset=".338" class="g2e"/><stop offset=".408" class="g3d"/><stop offset=".485" class="g59"/><stop offset=".551" class="g7c"/><stop offset=".624" class="gb0"/><stop offset=".687" class="gde"/><stop offset=".722" class="ged"/><stop offset=".739" class="ged"/><stop offset=".757" class="ge1"/><stop offset=".823" class="g97"/><stop offset=".865" class="g76"/><stop offset=".917" class="g5a"/><stop offset=".99" class="g42"/><stop offset=".997" class="g40"/></linearGradient><linearGradient id="q178" x2="0" y2="1"><stop offset="0" class="ge"/><stop offset=".22" class="g1c"/><stop offset=".349" class="g2d"/><stop offset=".422" class="g3d"/><stop offset=".499" class="g5a"/><stop offset=".565" class="g7e"/><stop offset=".69" class="gd8"/><stop offset=".725" class="ge8"/><stop offset=".739" class="ge7"/><stop offset=".757" class="gdc"/><stop offset=".823" class="g95"/><stop offset=".865" class="g75"/><stop offset=".917" class="g5a"/><stop offset=".99" class="g42"/><stop offset=".997" class="g41"/></linearGradient><clipPath id="cD3"><rect x="476.80" y="585.00" width="175.20" height="143.40"/></clipPath><linearGradient id="cbg" x2="0" y2="1"><stop offset="0" stop-color="#fff"/><stop offset="1" stop-color="#000"/></linearGradient><filter id="jetl" color-interpolation-filters="sRGB"><feComponentTransfer><feFuncR type="discrete" tableValues="0 0 0 0 0 0 0 0 0 0 0 0 0 0 0 0 0 0 0 0 0 0 0 0 .0625 .125 .1875 .25 .3125 .375 .4375 .5 .5625 .625 .6875 .75 .8125 .875 .9375 1 1 1 1 1 1 1 1 1 1 1 1 1 1 1 1 1 .9375 .875 .8125 .75 .6875 .625 .5625 .5"/><feFuncG type="discrete" tableValues="0 0 0 0 0 0 0 0 .0625 .125 .1875 .25 .3125 .375 .4375 .5 .5625 .625 .6875 .75 .8125 .875 .9375 1 1 1 1 1 1 1 1 1 1 1 1 1 1 1 1 1 .9375 .875 .8125 .75 .6875 .625 .5625 .5 .4375 .375 .3125 .25 .1875 .125 .0625 0 0 0 0 0 0 0 0 0"/><feFuncB type="discrete" tableValues=".5625 .625 .6875 .75 .8125 .875 .9375 1 1 1 1 1 1 1 1 1 1 1 1 1 1 1 1 1 .9375 .875 .8125 .75 .6875 .625 .5625 .5 .4375 .375 .3125 .25 .1875 .125 .0625 0 0 0 0 0 0 0 0 0 0 0 0 0 0 0 0 0 0 0 0 0 0 0 0 0"/></feComponentTransfer></filter></defs><g clip-path="url(#cA1)"><g filter="url(#jet)"><rect x="54" y="50.0" width="10" height="145.2" fill="url(#q0)"/><rect x="54" y="50.0" width="9" height="145.2" fill="url(#q1)" mask="url(#rm)"/><rect x="63" y="50.0" width="13" height="145.2" fill="url(#q1)"/><rect x="63" y="50.0" width="12" height="145.2" fill="url(#q2)" mask="url(#rm)"/><rect x="75" y="50.0" width="13" height="145.2" fill="url(#q2)"/><rect x="75" y="50.0" width="12" height="145.2" fill="url(#q3)" mask="url(#rm)"/><rect x="87" y="50.0" width="13" height="145.2" fill="url(#q3)"/><rect x="87" y="50.0" width="12" height="145.2" fill="url(#q4)" mask="url(#rm)"/><rect x="99" y="50.0" width="13" height="145.2" fill="url(#q4)"/><rect x="99" y="50.0" width="12" height="145.2" fill="url(#q5)" mask="url(#rm)"/><rect x="111" y="50.0" width="13" height="145.2" fill="url(#q5)"/><rect x="111" y="50.0" width="12" height="145.2" fill="url(#q6)" mask="url(#rm)"/><rect x="123" y="50.0" width="13" height="145.2" fill="url(#q6)"/><rect x="123" y="50.0" width="12" height="145.2" fill="url(#q7)" mask="url(#rm)"/><rect x="135" y="50.0" width="13" height="145.2" fill="url(#q7)"/><rect x="135" y="50.0" width="12" height="145.2" fill="url(#q8)" mask="url(#rm)"/><rect x="147" y="50.0" width="13" height="145.2" fill="url(#q8)"/><rect x="147" y="50.0" width="12" height="145.2" fill="url(#q9)" mask="url(#rm)"/><rect x="159" y="50.0" width="13" height="145.2" fill="url(#q9)"/><rect x="159" y="50.0" width="12" height="145.2" fill="url(#q10)" mask="url(#rm)"/><rect x="171" y="50.0" width="13" height="145.2" fill="url(#q10)"/><rect x="171" y="50.0" width="12" height="145.2" fill="url(#q11)" mask="url(#rm)"/><rect x="183" y="50.0" width="13" height="145.2" fill="url(#q11)"/><rect x="183" y="50.0" width="12" height="145.2" fill="url(#q12)" mask="url(#rm)"/><rect x="195" y="50.0" width="13" height="145.2" fill="url(#q12)"/><rect x="195" y="50.0" width="12" height="145.2" fill="url(#q13)" mask="url(#rm)"/><rect x="207" y="50.0" width="13" height="145.2" fill="url(#q13)"/><rect x="207" y="50.0" width="12" height="145.2" fill="url(#q14)" mask="url(#rm)"/><rect x="219" y="50.0" width="13" height="145.2" fill="url(#q14)"/><rect x="219" y="50.0" width="12" height="145.2" fill="url(#q15)" mask="url(#rm)"/><rect x="231" y="50.0" width="2" height="145.2" fill="url(#q15)"/></g></g><rect x="55.10" y="115.90" width="174.90" height="1" fill="#fff" fill-opacity=".35"/><text class="bl" x="226.70" y="68.60">B=0T</text><text class="yt" x="53.30" y="199.40">0</text><text class="yt" x="53.30" y="178.66">-0.2</text><text class="yt" x="53.30" y="157.91">-0.4</text><text class="yt" x="53.30" y="137.17">-0.6</text><text class="yt" x="53.30" y="116.43">-0.8</text><text class="yt" x="53.30" y="95.69">-1</text><text class="yt" x="53.30" y="74.94">-1.2</text><text class="xt" x="55.10" y="206.80">0</text><text class="xt" x="98.83" y="206.80">1</text><text class="xt" x="142.55" y="206.80">2</text><text class="xt" x="186.28" y="206.80">3</text><text class="xt" x="230.00" y="206.80">4</text><text class="ax" x="123.40" y="218.50">r(nm)</text><g clip-path="url(#cA2)"><g filter="url(#jet)"><rect x="264" y="50.0" width="13" height="145.2" fill="url(#q16)"/><rect x="264" y="50.0" width="12" height="145.2" fill="url(#q17)" mask="url(#rm)"/><rect x="276" y="50.0" width="13" height="145.2" fill="url(#q17)"/><rect x="276" y="50.0" width="12" height="145.2" fill="url(#q18)" mask="url(#rm)"/><rect x="288" y="50.0" width="13" height="145.2" fill="url(#q18)"/><rect x="288" y="50.0" width="12" height="145.2" fill="url(#q19)" mask="url(#rm)"/><rect x="300" y="50.0" width="13" height="145.2" fill="url(#q19)"/><rect x="300" y="50.0" width="12" height="145.2" fill="url(#q20)" mask="url(#rm)"/><rect x="312" y="50.0" width="13" height="145.2" fill="url(#q20)"/><rect x="312" y="50.0" width="12" height="145.2" fill="url(#q21)" mask="url(#rm)"/><rect x="324" y="50.0" width="13" height="145.2" fill="url(#q21)"/><rect x="324" y="50.0" width="12" height="145.2" fill="url(#q22)" mask="url(#rm)"/><rect x="336" y="50.0" width="13" height="145.2" fill="url(#q22)"/><rect x="336" y="50.0" width="12" height="145.2" fill="url(#q23)" mask="url(#rm)"/><rect x="348" y="50.0" width="13" height="145.2" fill="url(#q23)"/><rect x="348" y="50.0" width="12" height="145.2" fill="url(#q24)" mask="url(#rm)"/><rect x="360" y="50.0" width="13" height="145.2" fill="url(#q24)"/><rect x="360" y="50.0" width="12" height="145.2" fill="url(#q25)" mask="url(#rm)"/><rect x="372" y="50.0" width="13" height="145.2" fill="url(#q25)"/><rect x="372" y="50.0" width="12" height="145.2" fill="url(#q26)" mask="url(#rm)"/><rect x="384" y="50.0" width="13" height="145.2" fill="url(#q26)"/><rect x="384" y="50.0" width="12" height="145.2" fill="url(#q27)" mask="url(#rm)"/><rect x="396" y="50.0" width="13" height="145.2" fill="url(#q27)"/><rect x="396" y="50.0" width="12" height="145.2" fill="url(#q28)" mask="url(#rm)"/><rect x="408" y="50.0" width="13" height="145.2" fill="url(#q28)"/><rect x="408" y="50.0" width="12" height="145.2" fill="url(#q29)" mask="url(#rm)"/><rect x="420" y="50.0" width="13" height="145.2" fill="url(#q29)"/><rect x="420" y="50.0" width="12" height="145.2" fill="url(#q30)" mask="url(#rm)"/><rect x="432" y="50.0" width="11" height="145.2" fill="url(#q30)"/><rect x="432" y="50.0" width="10" height="145.2" fill="url(#q31)" mask="url(#rm)"/><rect x="442" y="50.0" width="2" height="145.2" fill="url(#q31)"/></g></g><rect x="265.70" y="115.80" width="175.30" height="1" fill="#fff" fill-opacity=".35"/><text class="bl" x="437.70" y="68.60">B=0.5T</text><text class="yt" x="263.90" y="199.40">0</text><text class="yt" x="263.90" y="178.66">-0.2</text><text class="yt" x="263.90" y="157.91">-0.4</text><text class="yt" x="263.90" y="137.17">-0.6</text><text class="yt" x="263.90" y="116.43">-0.8</text><text class="yt" x="263.90" y="95.69">-1</text><text class="yt" x="263.90" y="74.94">-1.2</text><text class="xt" x="265.70" y="206.80">0</text><text class="xt" x="309.52" y="206.80">1</text><text class="xt" x="353.35" y="206.80">2</text><text class="xt" x="397.18" y="206.80">3</text><text class="xt" x="441.00" y="206.80">4</text><text class="ax" x="334.00" y="218.50">r(nm)</text><g clip-path="url(#cA3)"><g filter="url(#jet)"><rect x="475" y="50.0" width="11" height="145.2" fill="url(#q32)"/><rect x="475" y="50.0" width="10" height="145.2" fill="url(#q33)" mask="url(#rm)"/><rect x="485" y="50.0" width="13" height="145.2" fill="url(#q33)"/><rect x="485" y="50.0" width="12" height="145.2" fill="url(#q34)" mask="url(#rm)"/><rect x="497" y="50.0" width="13" height="145.2" fill="url(#q34)"/><rect x="497" y="50.0" width="12" height="145.2" fill="url(#q35)" mask="url(#rm)"/><rect x="509" y="50.0" width="13" height="145.2" fill="url(#q35)"/><rect x="509" y="50.0" width="12" height="145.2" fill="url(#q36)" mask="url(#rm)"/><rect x="521" y="50.0" width="13" height="145.2" fill="url(#q36)"/><rect x="521" y="50.0" width="12" height="145.2" fill="url(#q37)" mask="url(#rm)"/><rect x="533" y="50.0" width="13" height="145.2" fill="url(#q37)"/><rect x="533" y="50.0" width="12" height="145.2" fill="url(#q38)" mask="url(#rm)"/><rect x="545" y="50.0" width="13" height="145.2" fill="url(#q38)"/><rect x="545" y="50.0" width="12" height="145.2" fill="url(#q39)" mask="url(#rm)"/><rect x="557" y="50.0" width="13" height="145.2" fill="url(#q39)"/><rect x="557" y="50.0" width="12" height="145.2" fill="url(#q40)" mask="url(#rm)"/><rect x="569" y="50.0" width="13" height="145.2" fill="url(#q40)"/><rect x="569" y="50.0" width="12" height="145.2" fill="url(#q41)" mask="url(#rm)"/><rect x="581" y="50.0" width="13" height="145.2" fill="url(#q41)"/><rect x="581" y="50.0" width="12" height="145.2" fill="url(#q42)" mask="url(#rm)"/><rect x="593" y="50.0" width="13" height="145.2" fill="url(#q42)"/><rect x="593" y="50.0" width="12" height="145.2" fill="url(#q43)" mask="url(#rm)"/><rect x="605" y="50.0" width="13" height="145.2" fill="url(#q43)"/><rect x="605" y="50.0" width="12" height="145.2" fill="url(#q44)" mask="url(#rm)"/><rect x="617" y="50.0" width="13" height="145.2" fill="url(#q44)"/><rect x="617" y="50.0" width="12" height="145.2" fill="url(#q45)" mask="url(#rm)"/><rect x="629" y="50.0" width="13" height="145.2" fill="url(#q45)"/><rect x="629" y="50.0" width="12" height="145.2" fill="url(#q46)" mask="url(#rm)"/><rect x="641" y="50.0" width="13" height="145.2" fill="url(#q46)"/><rect x="641" y="50.0" width="12" height="145.2" fill="url(#q47)" mask="url(#rm)"/><rect x="653" y="50.0" width="2" height="145.2" fill="url(#q47)"/></g></g><rect x="476.80" y="115.80" width="175.20" height="1" fill="#fff" fill-opacity=".35"/><text class="bl" x="648.70" y="68.60">B=1T</text><text class="yt" x="475.00" y="199.40">0</text><text class="yt" x="475.00" y="178.66">-0.2</text><text class="yt" x="475.00" y="157.91">-0.4</text><text class="yt" x="475.00" y="137.17">-0.6</text><text class="yt" x="475.00" y="116.43">-0.8</text><text class="yt" x="475.00" y="95.69">-1</text><text class="yt" x="475.00" y="74.94">-1.2</text><text class="xt" x="476.80" y="206.80">0</text><text class="xt" x="520.60" y="206.80">1</text><text class="xt" x="564.40" y="206.80">2</text><text class="xt" x="608.20" y="206.80">3</text><text class="xt" x="652.00" y="206.80">4</text><text class="ax" x="545.10" y="218.50">r(nm)</text><text class="ax" text-anchor="middle" transform="translate(32 122.35) rotate(-90)" style="font-size:17.4px" textLength="80.5" lengthAdjust="spacingAndGlyphs">Energy(eV)</text><text class="rl" x="3.0" y="47.80">A. m=1/2</text><g clip-path="url(#cB1)"><g filter="url(#jet)"><rect x="54" y="228.2" width="10" height="145.2" fill="url(#q0)"/><rect x="54" y="228.2" width="9" height="145.2" fill="url(#q1)" mask="url(#rm)"/><rect x="63" y="228.2" width="13" height="145.2" fill="url(#q1)"/><rect x="63" y="228.2" width="12" height="145.2" fill="url(#q2)" mask="url(#rm)"/><rect x="75" y="228.2" width="13" height="145.2" fill="url(#q2)"/><rect x="75" y="228.2" width="12" height="145.2" fill="url(#q3)" mask="url(#rm)"/><rect x="87" y="228.2" width="13" height="145.2" fill="url(#q3)"/><rect x="87" y="228.2" width="12" height="145.2" fill="url(#q4)" mask="url(#rm)"/><rect x="99" y="228.2" width="13" height="145.2" fill="url(#q4)"/><rect x="99" y="228.2" width="12" height="145.2" fill="url(#q5)" mask="url(#rm)"/><rect x="111" y="228.2" width="13" height="145.2" fill="url(#q5)"/><rect x="111" y="228.2" width="12" height="145.2" fill="url(#q6)" mask="url(#rm)"/><rect x="123" y="228.2" width="13" height="145.2" fill="url(#q6)"/><rect x="123" y="228.2" width="12" height="145.2" fill="url(#q7)" mask="url(#rm)"/><rect x="135" y="228.2" width="13" height="145.2" fill="url(#q7)"/><rect x="135" y="228.2" width="12" height="145.2" fill="url(#q8)" mask="url(#rm)"/><rect x="147" y="228.2" width="13" height="145.2" fill="url(#q8)"/><rect x="147" y="228.2" width="12" height="145.2" fill="url(#q9)" mask="url(#rm)"/><rect x="159" y="228.2" width="13" height="145.2" fill="url(#q9)"/><rect x="159" y="228.2" width="12" height="145.2" fill="url(#q10)" mask="url(#rm)"/><rect x="171" y="228.2" width="13" height="145.2" fill="url(#q10)"/><rect x="171" y="228.2" width="12" height="145.2" fill="url(#q11)" mask="url(#rm)"/><rect x="183" y="228.2" width="13" height="145.2" fill="url(#q11)"/><rect x="183" y="228.2" width="12" height="145.2" fill="url(#q12)" mask="url(#rm)"/><rect x="195" y="228.2" width="13" height="145.2" fill="url(#q12)"/><rect x="195" y="228.2" width="12" height="145.2" fill="url(#q13)" mask="url(#rm)"/><rect x="207" y="228.2" width="13" height="145.2" fill="url(#q13)"/><rect x="207" y="228.2" width="12" height="145.2" fill="url(#q14)" mask="url(#rm)"/><rect x="219" y="228.2" width="13" height="145.2" fill="url(#q14)"/><rect x="219" y="228.2" width="12" height="145.2" fill="url(#q15)" mask="url(#rm)"/><rect x="231" y="228.2" width="2" height="145.2" fill="url(#q15)"/></g></g><rect x="55.10" y="294.10" width="174.90" height="1" fill="#fff" fill-opacity=".35"/><text class="bl" x="226.70" y="246.80">B=0T</text><text class="yt" x="53.30" y="377.60">0</text><text class="yt" x="53.30" y="356.86">-0.2</text><text class="yt" x="53.30" y="336.11">-0.4</text><text class="yt" x="53.30" y="315.37">-0.6</text><text class="yt" x="53.30" y="294.63">-0.8</text><text class="yt" x="53.30" y="273.89">-1</text><text class="yt" x="53.30" y="253.14">-1.2</text><text class="xt" x="55.10" y="385.00">0</text><text class="xt" x="98.83" y="385.00">1</text><text class="xt" x="142.55" y="385.00">2</text><text class="xt" x="186.28" y="385.00">3</text><text class="xt" x="230.00" y="385.00">4</text><text class="ax" x="123.40" y="396.70">r(nm)</text><g clip-path="url(#cB2)"><g filter="url(#jet)"><rect x="264" y="228.2" width="11" height="145.2" fill="url(#q48)"/><rect x="264" y="228.2" width="10" height="145.2" fill="url(#q49)" mask="url(#rm)"/><rect x="274" y="228.2" width="13" height="145.2" fill="url(#q49)"/><rect x="274" y="228.2" width="12" height="145.2" fill="url(#q50)" mask="url(#rm)"/><rect x="286" y="228.2" width="13" height="145.2" fill="url(#q50)"/><rect x="286" y="228.2" width="12" height="145.2" fill="url(#q51)" mask="url(#rm)"/><rect x="298" y="228.2" width="13" height="145.2" fill="url(#q51)"/><rect x="298" y="228.2" width="12" height="145.2" fill="url(#q52)" mask="url(#rm)"/><rect x="310" y="228.2" width="13" height="145.2" fill="url(#q52)"/><rect x="310" y="228.2" width="12" height="145.2" fill="url(#q53)" mask="url(#rm)"/><rect x="322" y="228.2" width="13" height="145.2" fill="url(#q53)"/><rect x="322" y="228.2" width="12" height="145.2" fill="url(#q54)" mask="url(#rm)"/><rect x="334" y="228.2" width="13" height="145.2" fill="url(#q54)"/><rect x="334" y="228.2" width="12" height="145.2" fill="url(#q55)" mask="url(#rm)"/><rect x="346" y="228.2" width="13" height="145.2" fill="url(#q55)"/><rect x="346" y="228.2" width="12" height="145.2" fill="url(#q56)" mask="url(#rm)"/><rect x="358" y="228.2" width="13" height="145.2" fill="url(#q56)"/><rect x="358" y="228.2" width="12" height="145.2" fill="url(#q57)" mask="url(#rm)"/><rect x="370" y="228.2" width="13" height="145.2" fill="url(#q57)"/><rect x="370" y="228.2" width="12" height="145.2" fill="url(#q58)" mask="url(#rm)"/><rect x="382" y="228.2" width="13" height="145.2" fill="url(#q58)"/><rect x="382" y="228.2" width="12" height="145.2" fill="url(#q59)" mask="url(#rm)"/><rect x="394" y="228.2" width="13" height="145.2" fill="url(#q59)"/><rect x="394" y="228.2" width="12" height="145.2" fill="url(#q60)" mask="url(#rm)"/><rect x="406" y="228.2" width="13" height="145.2" fill="url(#q60)"/><rect x="406" y="228.2" width="12" height="145.2" fill="url(#q61)" mask="url(#rm)"/><rect x="418" y="228.2" width="13" height="145.2" fill="url(#q61)"/><rect x="418" y="228.2" width="12" height="145.2" fill="url(#q62)" mask="url(#rm)"/><rect x="430" y="228.2" width="13" height="145.2" fill="url(#q62)"/><rect x="430" y="228.2" width="12" height="145.2" fill="url(#q63)" mask="url(#rm)"/><rect x="442" y="228.2" width="2" height="145.2" fill="url(#q63)"/></g></g><text class="bl" x="437.70" y="246.80">B=1T</text><text class="yt" x="263.90" y="377.60">0</text><text class="yt" x="263.90" y="356.86">-0.2</text><text class="yt" x="263.90" y="336.11">-0.4</text><text class="yt" x="263.90" y="315.37">-0.6</text><text class="yt" x="263.90" y="294.63">-0.8</text><text class="yt" x="263.90" y="273.89">-1</text><text class="yt" x="263.90" y="253.14">-1.2</text><text class="xt" x="265.70" y="385.00">0</text><text class="xt" x="309.52" y="385.00">1</text><text class="xt" x="353.35" y="385.00">2</text><text class="xt" x="397.18" y="385.00">3</text><text class="xt" x="441.00" y="385.00">4</text><text class="ax" x="334.00" y="396.70">r(nm)</text><g clip-path="url(#cB3)"><g filter="url(#jet)"><rect x="475" y="228.2" width="13" height="145.2" fill="url(#q64)"/><rect x="475" y="228.2" width="12" height="145.2" fill="url(#q65)" mask="url(#rm)"/><rect x="487" y="228.2" width="13" height="145.2" fill="url(#q65)"/><rect x="487" y="228.2" width="12" height="145.2" fill="url(#q66)" mask="url(#rm)"/><rect x="499" y="228.2" width="13" height="145.2" fill="url(#q66)"/><rect x="499" y="228.2" width="12" height="145.2" fill="url(#q67)" mask="url(#rm)"/><rect x="511" y="228.2" width="13" height="145.2" fill="url(#q67)"/><rect x="511" y="228.2" width="12" height="145.2" fill="url(#q68)" mask="url(#rm)"/><rect x="523" y="228.2" width="13" height="145.2" fill="url(#q68)"/><rect x="523" y="228.2" width="12" height="145.2" fill="url(#q69)" mask="url(#rm)"/><rect x="535" y="228.2" width="13" height="145.2" fill="url(#q69)"/><rect x="535" y="228.2" width="12" height="145.2" fill="url(#q70)" mask="url(#rm)"/><rect x="547" y="228.2" width="13" height="145.2" fill="url(#q70)"/><rect x="547" y="228.2" width="12" height="145.2" fill="url(#q71)" mask="url(#rm)"/><rect x="559" y="228.2" width="13" height="145.2" fill="url(#q71)"/><rect x="559" y="228.2" width="12" height="145.2" fill="url(#q72)" mask="url(#rm)"/><rect x="571" y="228.2" width="13" height="145.2" fill="url(#q72)"/><rect x="571" y="228.2" width="12" height="145.2" fill="url(#q73)" mask="url(#rm)"/><rect x="583" y="228.2" width="13" height="145.2" fill="url(#q73)"/><rect x="583" y="228.2" width="12" height="145.2" fill="url(#q74)" mask="url(#rm)"/><rect x="595" y="228.2" width="13" height="145.2" fill="url(#q74)"/><rect x="595" y="228.2" width="12" height="145.2" fill="url(#q75)" mask="url(#rm)"/><rect x="607" y="228.2" width="13" height="145.2" fill="url(#q75)"/><rect x="607" y="228.2" width="12" height="145.2" fill="url(#q76)" mask="url(#rm)"/><rect x="619" y="228.2" width="13" height="145.2" fill="url(#q76)"/><rect x="619" y="228.2" width="12" height="145.2" fill="url(#q77)" mask="url(#rm)"/><rect x="631" y="228.2" width="13" height="145.2" fill="url(#q77)"/><rect x="631" y="228.2" width="12" height="145.2" fill="url(#q78)" mask="url(#rm)"/><rect x="643" y="228.2" width="11" height="145.2" fill="url(#q78)"/><rect x="643" y="228.2" width="10" height="145.2" fill="url(#q79)" mask="url(#rm)"/><rect x="653" y="228.2" width="2" height="145.2" fill="url(#q79)"/></g></g><rect x="476.80" y="290.00" width="175.20" height="1" fill="#fff" fill-opacity=".35"/><text class="bl" x="648.70" y="246.80">B=5T</text><text class="yt" x="475.00" y="377.60">0</text><text class="yt" x="475.00" y="356.86">-0.2</text><text class="yt" x="475.00" y="336.11">-0.4</text><text class="yt" x="475.00" y="315.37">-0.6</text><text class="yt" x="475.00" y="294.63">-0.8</text><text class="yt" x="475.00" y="273.89">-1</text><text class="yt" x="475.00" y="253.14">-1.2</text><text class="xt" x="476.80" y="385.00">0</text><text class="xt" x="520.60" y="385.00">1</text><text class="xt" x="564.40" y="385.00">2</text><text class="xt" x="608.20" y="385.00">3</text><text class="xt" x="652.00" y="385.00">4</text><text class="ax" x="545.10" y="396.70">r(nm)</text><text class="ax" text-anchor="middle" transform="translate(32 302.30) rotate(-90)" style="font-size:17.4px" textLength="80.5" lengthAdjust="spacingAndGlyphs">Energy(eV)</text><text class="rl" x="3.0" y="225.70">B. m=-1/2</text><g clip-path="url(#cC1)"><g filter="url(#jet)"><rect x="52" y="406.2" width="3" height="144.4" fill="url(#q80)"/><rect x="52" y="406.2" width="2" height="144.4" fill="url(#q81)" mask="url(#rm)"/><rect x="54" y="406.2" width="13" height="144.4" fill="url(#q81)"/><rect x="54" y="406.2" width="12" height="144.4" fill="url(#q82)" mask="url(#rm)"/><rect x="66" y="406.2" width="13" height="144.4" fill="url(#q82)"/><rect x="66" y="406.2" width="12" height="144.4" fill="url(#q83)" mask="url(#rm)"/><rect x="78" y="406.2" width="13" height="144.4" fill="url(#q83)"/><rect x="78" y="406.2" width="12" height="144.4" fill="url(#q84)" mask="url(#rm)"/><rect x="90" y="406.2" width="13" height="144.4" fill="url(#q84)"/><rect x="90" y="406.2" width="12" height="144.4" fill="url(#q85)" mask="url(#rm)"/><rect x="102" y="406.2" width="13" height="144.4" fill="url(#q85)"/><rect x="102" y="406.2" width="12" height="144.4" fill="url(#q86)" mask="url(#rm)"/><rect x="114" y="406.2" width="11" height="144.4" fill="url(#q86)"/><rect x="114" y="406.2" width="10" height="144.4" fill="url(#q87)" mask="url(#rm)"/><rect x="124" y="406.2" width="13" height="144.4" fill="url(#q87)"/><rect x="124" y="406.2" width="12" height="144.4" fill="url(#q88)" mask="url(#rm)"/><rect x="136" y="406.2" width="13" height="144.4" fill="url(#q88)"/><rect x="136" y="406.2" width="12" height="144.4" fill="url(#q89)" mask="url(#rm)"/><rect x="148" y="406.2" width="13" height="144.4" fill="url(#q89)"/><rect x="148" y="406.2" width="12" height="144.4" fill="url(#q90)" mask="url(#rm)"/><rect x="160" y="406.2" width="13" height="144.4" fill="url(#q90)"/><rect x="160" y="406.2" width="12" height="144.4" fill="url(#q91)" mask="url(#rm)"/><rect x="172" y="406.2" width="13" height="144.4" fill="url(#q91)"/><rect x="172" y="406.2" width="12" height="144.4" fill="url(#q92)" mask="url(#rm)"/><rect x="184" y="406.2" width="13" height="144.4" fill="url(#q92)"/><rect x="184" y="406.2" width="12" height="144.4" fill="url(#q93)" mask="url(#rm)"/><rect x="196" y="406.2" width="13" height="144.4" fill="url(#q93)"/><rect x="196" y="406.2" width="12" height="144.4" fill="url(#q94)" mask="url(#rm)"/><rect x="208" y="406.2" width="13" height="144.4" fill="url(#q94)"/><rect x="208" y="406.2" width="12" height="144.4" fill="url(#q95)" mask="url(#rm)"/><rect x="220" y="406.2" width="12" height="144.4" fill="url(#q95)"/><rect x="220" y="406.2" width="11" height="144.4" fill="url(#q96)" mask="url(#rm)"/><rect x="231" y="406.2" width="2" height="144.4" fill="url(#q96)"/></g></g><text class="bl" x="226.50" y="424.80">B=0T</text><text class="yt" x="51.90" y="554.80">0</text><text class="yt" x="51.90" y="534.17">-0.2</text><text class="yt" x="51.90" y="513.54">-0.4</text><text class="yt" x="51.90" y="492.91">-0.6</text><text class="yt" x="51.90" y="472.29">-0.8</text><text class="yt" x="51.90" y="451.66">-1</text><text class="yt" x="51.90" y="431.03">-1.2</text><text class="xt" x="53.70" y="562.20">0</text><text class="xt" x="97.73" y="562.20">1</text><text class="xt" x="141.75" y="562.20">2</text><text class="xt" x="185.78" y="562.20">3</text><text class="xt" x="229.80" y="562.20">4</text><text class="ax" x="122.00" y="573.90">r(nm)</text><g clip-path="url(#cC2)"><g filter="url(#jet)"><rect x="264" y="406.2" width="3" height="144.4" fill="url(#q80)"/><rect x="264" y="406.2" width="2" height="144.4" fill="url(#q97)" mask="url(#rm)"/><rect x="266" y="406.2" width="12" height="144.4" fill="url(#q97)"/><rect x="266" y="406.2" width="11" height="144.4" fill="url(#q98)" mask="url(#rm)"/><rect x="277" y="406.2" width="13" height="144.4" fill="url(#q98)"/><rect x="277" y="406.2" width="12" height="144.4" fill="url(#q99)" mask="url(#rm)"/><rect x="289" y="406.2" width="13" height="144.4" fill="url(#q99)"/><rect x="289" y="406.2" width="12" height="144.4" fill="url(#q100)" mask="url(#rm)"/><rect x="301" y="406.2" width="13" height="144.4" fill="url(#q100)"/><rect x="301" y="406.2" width="12" height="144.4" fill="url(#q101)" mask="url(#rm)"/><rect x="313" y="406.2" width="13" height="144.4" fill="url(#q101)"/><rect x="313" y="406.2" width="12" height="144.4" fill="url(#q102)" mask="url(#rm)"/><rect x="325" y="406.2" width="11" height="144.4" fill="url(#q102)"/><rect x="325" y="406.2" width="10" height="144.4" fill="url(#q103)" mask="url(#rm)"/><rect x="335" y="406.2" width="6" height="144.4" fill="url(#q103)"/><rect x="335" y="406.2" width="5" height="144.4" fill="url(#q104)" mask="url(#rm)"/><rect x="340" y="406.2" width="8" height="144.4" fill="url(#q104)"/><rect x="340" y="406.2" width="7" height="144.4" fill="url(#q105)" mask="url(#rm)"/><rect x="347" y="406.2" width="11" height="144.4" fill="url(#q105)"/><rect x="347" y="406.2" width="10" height="144.4" fill="url(#q106)" mask="url(#rm)"/><rect x="357" y="406.2" width="13" height="144.4" fill="url(#q106)"/><rect x="357" y="406.2" width="12" height="144.4" fill="url(#q107)" mask="url(#rm)"/><rect x="369" y="406.2" width="13" height="144.4" fill="url(#q107)"/><rect x="369" y="406.2" width="12" height="144.4" fill="url(#q108)" mask="url(#rm)"/><rect x="381" y="406.2" width="13" height="144.4" fill="url(#q108)"/><rect x="381" y="406.2" width="12" height="144.4" fill="url(#q109)" mask="url(#rm)"/><rect x="393" y="406.2" width="13" height="144.4" fill="url(#q109)"/><rect x="393" y="406.2" width="12" height="144.4" fill="url(#q110)" mask="url(#rm)"/><rect x="405" y="406.2" width="13" height="144.4" fill="url(#q110)"/><rect x="405" y="406.2" width="12" height="144.4" fill="url(#q111)" mask="url(#rm)"/><rect x="417" y="406.2" width="13" height="144.4" fill="url(#q111)"/><rect x="417" y="406.2" width="12" height="144.4" fill="url(#q112)" mask="url(#rm)"/><rect x="429" y="406.2" width="13" height="144.4" fill="url(#q112)"/><rect x="429" y="406.2" width="12" height="144.4" fill="url(#q113)" mask="url(#rm)"/><rect x="441" y="406.2" width="2" height="144.4" fill="url(#q113)"/><rect x="442" y="406.2" width="2" height="144.4" fill="url(#q113)"/></g></g><rect x="265.70" y="471.40" width="175.30" height="1" fill="#fff" fill-opacity=".35"/><text class="bl" x="437.70" y="424.80">B=15T</text><text class="yt" x="263.90" y="554.80">0</text><text class="yt" x="263.90" y="534.17">-0.2</text><text class="yt" x="263.90" y="513.54">-0.4</text><text class="yt" x="263.90" y="492.91">-0.6</text><text class="yt" x="263.90" y="472.29">-0.8</text><text class="yt" x="263.90" y="451.66">-1</text><text class="yt" x="263.90" y="431.03">-1.2</text><text class="xt" x="265.70" y="562.20">0</text><text class="xt" x="309.52" y="562.20">1</text><text class="xt" x="353.35" y="562.20">2</text><text class="xt" x="397.18" y="562.20">3</text><text class="xt" x="441.00" y="562.20">4</text><text class="ax" x="334.00" y="573.90">r(nm)</text><g clip-path="url(#cC3)"><g filter="url(#jet)"><rect x="475" y="406.2" width="3" height="144.4" fill="url(#q80)"/><rect x="475" y="406.2" width="2" height="144.4" fill="url(#q114)" mask="url(#rm)"/><rect x="477" y="406.2" width="12" height="144.4" fill="url(#q114)"/><rect x="477" y="406.2" width="11" height="144.4" fill="url(#q115)" mask="url(#rm)"/><rect x="488" y="406.2" width="13" height="144.4" fill="url(#q115)"/><rect x="488" y="406.2" width="12" height="144.4" fill="url(#q116)" mask="url(#rm)"/><rect x="500" y="406.2" width="13" height="144.4" fill="url(#q116)"/><rect x="500" y="406.2" width="12" height="144.4" fill="url(#q117)" mask="url(#rm)"/><rect x="512" y="406.2" width="13" height="144.4" fill="url(#q117)"/><rect x="512" y="406.2" width="12" height="144.4" fill="url(#q118)" mask="url(#rm)"/><rect x="524" y="406.2" width="13" height="144.4" fill="url(#q118)"/><rect x="524" y="406.2" width="12" height="144.4" fill="url(#q119)" mask="url(#rm)"/><rect x="536" y="406.2" width="13" height="144.4" fill="url(#q119)"/><rect x="536" y="406.2" width="12" height="144.4" fill="url(#q120)" mask="url(#rm)"/><rect x="548" y="406.2" width="13" height="144.4" fill="url(#q120)"/><rect x="548" y="406.2" width="12" height="144.4" fill="url(#q121)" mask="url(#rm)"/><rect x="560" y="406.2" width="13" height="144.4" fill="url(#q121)"/><rect x="560" y="406.2" width="12" height="144.4" fill="url(#q122)" mask="url(#rm)"/><rect x="572" y="406.2" width="13" height="144.4" fill="url(#q122)"/><rect x="572" y="406.2" width="12" height="144.4" fill="url(#q123)" mask="url(#rm)"/><rect x="584" y="406.2" width="13" height="144.4" fill="url(#q123)"/><rect x="584" y="406.2" width="12" height="144.4" fill="url(#q124)" mask="url(#rm)"/><rect x="596" y="406.2" width="13" height="144.4" fill="url(#q124)"/><rect x="596" y="406.2" width="12" height="144.4" fill="url(#q125)" mask="url(#rm)"/><rect x="608" y="406.2" width="13" height="144.4" fill="url(#q125)"/><rect x="608" y="406.2" width="12" height="144.4" fill="url(#q126)" mask="url(#rm)"/><rect x="620" y="406.2" width="13" height="144.4" fill="url(#q126)"/><rect x="620" y="406.2" width="12" height="144.4" fill="url(#q127)" mask="url(#rm)"/><rect x="632" y="406.2" width="13" height="144.4" fill="url(#q127)"/><rect x="632" y="406.2" width="12" height="144.4" fill="url(#q128)" mask="url(#rm)"/><rect x="644" y="406.2" width="10" height="144.4" fill="url(#q128)"/><rect x="644" y="406.2" width="9" height="144.4" fill="url(#q129)" mask="url(#rm)"/><rect x="653" y="406.2" width="2" height="144.4" fill="url(#q129)"/></g></g><rect x="476.80" y="467.60" width="175.20" height="1" fill="#fff" fill-opacity=".35"/><text class="bl" x="648.70" y="424.80">B=28T</text><text class="yt" x="475.00" y="554.80">0</text><text class="yt" x="475.00" y="534.17">-0.2</text><text class="yt" x="475.00" y="513.54">-0.4</text><text class="yt" x="475.00" y="492.91">-0.6</text><text class="yt" x="475.00" y="472.29">-0.8</text><text class="yt" x="475.00" y="451.66">-1</text><text class="yt" x="475.00" y="431.03">-1.2</text><text class="xt" x="476.80" y="562.20">0</text><text class="xt" x="520.60" y="562.20">1</text><text class="xt" x="564.40" y="562.20">2</text><text class="xt" x="608.20" y="562.20">3</text><text class="xt" x="652.00" y="562.20">4</text><text class="ax" x="545.10" y="573.90">r(nm)</text><text class="ax" text-anchor="middle" transform="translate(32 481.10) rotate(-90)" style="font-size:17.4px" textLength="80.5" lengthAdjust="spacingAndGlyphs">Energy(eV)</text><text class="rl" x="1.3" y="404.70">C. m=3/2</text><g clip-path="url(#cD1)"><g filter="url(#jet)"><rect x="54" y="585.0" width="4" height="143.4" fill="url(#q80)"/><rect x="54" y="585.0" width="3" height="143.4" fill="url(#q130)" mask="url(#rm)"/><rect x="57" y="585.0" width="11" height="143.4" fill="url(#q130)"/><rect x="57" y="585.0" width="10" height="143.4" fill="url(#q131)" mask="url(#rm)"/><rect x="67" y="585.0" width="13" height="143.4" fill="url(#q131)"/><rect x="67" y="585.0" width="12" height="143.4" fill="url(#q132)" mask="url(#rm)"/><rect x="79" y="585.0" width="13" height="143.4" fill="url(#q132)"/><rect x="79" y="585.0" width="12" height="143.4" fill="url(#q133)" mask="url(#rm)"/><rect x="91" y="585.0" width="13" height="143.4" fill="url(#q133)"/><rect x="91" y="585.0" width="12" height="143.4" fill="url(#q134)" mask="url(#rm)"/><rect x="103" y="585.0" width="13" height="143.4" fill="url(#q134)"/><rect x="103" y="585.0" width="12" height="143.4" fill="url(#q135)" mask="url(#rm)"/><rect x="115" y="585.0" width="11" height="143.4" fill="url(#q135)"/><rect x="115" y="585.0" width="10" height="143.4" fill="url(#q136)" mask="url(#rm)"/><rect x="125" y="585.0" width="13" height="143.4" fill="url(#q136)"/><rect x="125" y="585.0" width="12" height="143.4" fill="url(#q137)" mask="url(#rm)"/><rect x="137" y="585.0" width="13" height="143.4" fill="url(#q137)"/><rect x="137" y="585.0" width="12" height="143.4" fill="url(#q138)" mask="url(#rm)"/><rect x="149" y="585.0" width="13" height="143.4" fill="url(#q138)"/><rect x="149" y="585.0" width="12" height="143.4" fill="url(#q139)" mask="url(#rm)"/><rect x="161" y="585.0" width="13" height="143.4" fill="url(#q139)"/><rect x="161" y="585.0" width="12" height="143.4" fill="url(#q140)" mask="url(#rm)"/><rect x="173" y="585.0" width="13" height="143.4" fill="url(#q140)"/><rect x="173" y="585.0" width="12" height="143.4" fill="url(#q141)" mask="url(#rm)"/><rect x="185" y="585.0" width="13" height="143.4" fill="url(#q141)"/><rect x="185" y="585.0" width="12" height="143.4" fill="url(#q142)" mask="url(#rm)"/><rect x="197" y="585.0" width="13" height="143.4" fill="url(#q142)"/><rect x="197" y="585.0" width="12" height="143.4" fill="url(#q143)" mask="url(#rm)"/><rect x="209" y="585.0" width="13" height="143.4" fill="url(#q143)"/><rect x="209" y="585.0" width="12" height="143.4" fill="url(#q144)" mask="url(#rm)"/><rect x="221" y="585.0" width="11" height="143.4" fill="url(#q144)"/><rect x="221" y="585.0" width="10" height="143.4" fill="url(#q145)" mask="url(#rm)"/><rect x="231" y="585.0" width="2" height="143.4" fill="url(#q145)"/></g></g><rect x="55.10" y="649.90" width="174.90" height="1" fill="#fff" fill-opacity=".35"/><text class="bl" x="226.70" y="603.60">B=0T</text><text class="yt" x="53.30" y="732.60">0</text><text class="yt" x="53.30" y="712.11">-0.2</text><text class="yt" x="53.30" y="691.63">-0.4</text><text class="yt" x="53.30" y="671.14">-0.6</text><text class="yt" x="53.30" y="650.66">-0.8</text><text class="yt" x="53.30" y="630.17">-1</text><text class="yt" x="53.30" y="609.69">-1.2</text><text class="xt" x="55.10" y="740.00">0</text><text class="xt" x="98.83" y="740.00">1</text><text class="xt" x="142.55" y="740.00">2</text><text class="xt" x="186.28" y="740.00">3</text><text class="xt" x="230.00" y="740.00">4</text><text class="ax" x="123.40" y="751.70">r(nm)</text><g clip-path="url(#cD2)"><g filter="url(#jet)"><rect x="264" y="585.0" width="3" height="143.4" fill="url(#q80)"/><rect x="264" y="585.0" width="2" height="143.4" fill="url(#q146)" mask="url(#rm)"/><rect x="266" y="585.0" width="12" height="143.4" fill="url(#q146)"/><rect x="266" y="585.0" width="11" height="143.4" fill="url(#q147)" mask="url(#rm)"/><rect x="277" y="585.0" width="13" height="143.4" fill="url(#q147)"/><rect x="277" y="585.0" width="12" height="143.4" fill="url(#q148)" mask="url(#rm)"/><rect x="289" y="585.0" width="13" height="143.4" fill="url(#q148)"/><rect x="289" y="585.0" width="12" height="143.4" fill="url(#q149)" mask="url(#rm)"/><rect x="301" y="585.0" width="13" height="143.4" fill="url(#q149)"/><rect x="301" y="585.0" width="12" height="143.4" fill="url(#q150)" mask="url(#rm)"/><rect x="313" y="585.0" width="13" height="143.4" fill="url(#q150)"/><rect x="313" y="585.0" width="12" height="143.4" fill="url(#q151)" mask="url(#rm)"/><rect x="325" y="585.0" width="10" height="143.4" fill="url(#q151)"/><rect x="325" y="585.0" width="9" height="143.4" fill="url(#q152)" mask="url(#rm)"/><rect x="334" y="585.0" width="8" height="143.4" fill="url(#q152)"/><rect x="334" y="585.0" width="7" height="143.4" fill="url(#q153)" mask="url(#rm)"/><rect x="341" y="585.0" width="10" height="143.4" fill="url(#q153)"/><rect x="341" y="585.0" width="9" height="143.4" fill="url(#q154)" mask="url(#rm)"/><rect x="350" y="585.0" width="13" height="143.4" fill="url(#q154)"/><rect x="350" y="585.0" width="12" height="143.4" fill="url(#q155)" mask="url(#rm)"/><rect x="362" y="585.0" width="13" height="143.4" fill="url(#q155)"/><rect x="362" y="585.0" width="12" height="143.4" fill="url(#q156)" mask="url(#rm)"/><rect x="374" y="585.0" width="13" height="143.4" fill="url(#q156)"/><rect x="374" y="585.0" width="12" height="143.4" fill="url(#q157)" mask="url(#rm)"/><rect x="386" y="585.0" width="13" height="143.4" fill="url(#q157)"/><rect x="386" y="585.0" width="12" height="143.4" fill="url(#q158)" mask="url(#rm)"/><rect x="398" y="585.0" width="13" height="143.4" fill="url(#q158)"/><rect x="398" y="585.0" width="12" height="143.4" fill="url(#q159)" mask="url(#rm)"/><rect x="410" y="585.0" width="13" height="143.4" fill="url(#q159)"/><rect x="410" y="585.0" width="12" height="143.4" fill="url(#q160)" mask="url(#rm)"/><rect x="422" y="585.0" width="13" height="143.4" fill="url(#q160)"/><rect x="422" y="585.0" width="12" height="143.4" fill="url(#q161)" mask="url(#rm)"/><rect x="434" y="585.0" width="9" height="143.4" fill="url(#q161)"/><rect x="434" y="585.0" width="8" height="143.4" fill="url(#q162)" mask="url(#rm)"/><rect x="442" y="585.0" width="2" height="143.4" fill="url(#q162)"/></g></g><text class="bl" x="437.70" y="603.60">B=15T</text><text class="yt" x="263.90" y="732.60">0</text><text class="yt" x="263.90" y="712.11">-0.2</text><text class="yt" x="263.90" y="691.63">-0.4</text><text class="yt" x="263.90" y="671.14">-0.6</text><text class="yt" x="263.90" y="650.66">-0.8</text><text class="yt" x="263.90" y="630.17">-1</text><text class="yt" x="263.90" y="609.69">-1.2</text><text class="xt" x="265.70" y="740.00">0</text><text class="xt" x="309.52" y="740.00">1</text><text class="xt" x="353.35" y="740.00">2</text><text class="xt" x="397.18" y="740.00">3</text><text class="xt" x="441.00" y="740.00">4</text><text class="ax" x="334.00" y="751.70">r(nm)</text><g clip-path="url(#cD3)"><g filter="url(#jet)"><rect x="475" y="585.0" width="3" height="143.4" fill="url(#q80)"/><rect x="475" y="585.0" width="2" height="143.4" fill="url(#q163)" mask="url(#rm)"/><rect x="477" y="585.0" width="12" height="143.4" fill="url(#q163)"/><rect x="477" y="585.0" width="11" height="143.4" fill="url(#q164)" mask="url(#rm)"/><rect x="488" y="585.0" width="13" height="143.4" fill="url(#q164)"/><rect x="488" y="585.0" width="12" height="143.4" fill="url(#q165)" mask="url(#rm)"/><rect x="500" y="585.0" width="13" height="143.4" fill="url(#q165)"/><rect x="500" y="585.0" width="12" height="143.4" fill="url(#q166)" mask="url(#rm)"/><rect x="512" y="585.0" width="13" height="143.4" fill="url(#q166)"/><rect x="512" y="585.0" width="12" height="143.4" fill="url(#q167)" mask="url(#rm)"/><rect x="524" y="585.0" width="13" height="143.4" fill="url(#q167)"/><rect x="524" y="585.0" width="12" height="143.4" fill="url(#q168)" mask="url(#rm)"/><rect x="536" y="585.0" width="13" height="143.4" fill="url(#q168)"/><rect x="536" y="585.0" width="12" height="143.4" fill="url(#q169)" mask="url(#rm)"/><rect x="548" y="585.0" width="13" height="143.4" fill="url(#q169)"/><rect x="548" y="585.0" width="12" height="143.4" fill="url(#q170)" mask="url(#rm)"/><rect x="560" y="585.0" width="13" height="143.4" fill="url(#q170)"/><rect x="560" y="585.0" width="12" height="143.4" fill="url(#q171)" mask="url(#rm)"/><rect x="572" y="585.0" width="13" height="143.4" fill="url(#q171)"/><rect x="572" y="585.0" width="12" height="143.4" fill="url(#q172)" mask="url(#rm)"/><rect x="584" y="585.0" width="13" height="143.4" fill="url(#q172)"/><rect x="584" y="585.0" width="12" height="143.4" fill="url(#q173)" mask="url(#rm)"/><rect x="596" y="585.0" width="13" height="143.4" fill="url(#q173)"/><rect x="596" y="585.0" width="12" height="143.4" fill="url(#q174)" mask="url(#rm)"/><rect x="608" y="585.0" width="13" height="143.4" fill="url(#q174)"/><rect x="608" y="585.0" width="12" height="143.4" fill="url(#q175)" mask="url(#rm)"/><rect x="620" y="585.0" width="13" height="143.4" fill="url(#q175)"/><rect x="620" y="585.0" width="12" height="143.4" fill="url(#q176)" mask="url(#rm)"/><rect x="632" y="585.0" width="13" height="143.4" fill="url(#q176)"/><rect x="632" y="585.0" width="12" height="143.4" fill="url(#q177)" mask="url(#rm)"/><rect x="644" y="585.0" width="10" height="143.4" fill="url(#q177)"/><rect x="644" y="585.0" width="9" height="143.4" fill="url(#q178)" mask="url(#rm)"/><rect x="653" y="585.0" width="2" height="143.4" fill="url(#q178)"/></g></g><rect x="476.80" y="645.95" width="175.20" height="1" fill="#fff" fill-opacity=".35"/><text class="bl" x="648.70" y="603.60">B=28T</text><text class="yt" x="475.00" y="732.60">0</text><text class="yt" x="475.00" y="712.11">-0.2</text><text class="yt" x="475.00" y="691.63">-0.4</text><text class="yt" x="475.00" y="671.14">-0.6</text><text class="yt" x="475.00" y="650.66">-0.8</text><text class="yt" x="475.00" y="630.17">-1</text><text class="yt" x="475.00" y="609.69">-1.2</text><text class="xt" x="476.80" y="740.00">0</text><text class="xt" x="520.60" y="740.00">1</text><text class="xt" x="564.40" y="740.00">2</text><text class="xt" x="608.20" y="740.00">3</text><text class="xt" x="652.00" y="740.00">4</text><text class="ax" x="545.10" y="751.70">r(nm)</text><text class="ax" text-anchor="middle" transform="translate(32 658.00) rotate(-90)" style="font-size:17.4px" textLength="80.5" lengthAdjust="spacingAndGlyphs">Energy(eV)</text><text class="rl" x="1.8" y="583.60">D. m=-3/2</text><rect x="669.10" y="405.80" width="13.50" height="322.00" fill="url(#cbg)" filter="url(#jetl)"/><rect x="669.10" y="405.80" width="13.50" height="322.00" fill="none" stroke="#333" stroke-width=".6"/><path d="M669.10 419.50h1.6M682.60 419.50h-1.6" stroke="#000" stroke-width=".8"/><path d="M669.10 453.69h1.6M682.60 453.69h-1.6" stroke="#000" stroke-width=".8"/><path d="M669.10 487.88h1.6M682.60 487.88h-1.6" stroke="#000" stroke-width=".8"/><path d="M669.10 522.07h1.6M682.60 522.07h-1.6" stroke="#000" stroke-width=".8"/><path d="M669.10 556.26h1.6M682.60 556.26h-1.6" stroke="#000" stroke-width=".8"/><path d="M669.10 590.45h1.6M682.60 590.45h-1.6" stroke="#000" stroke-width=".8"/><path d="M669.10 624.64h1.6M682.60 624.64h-1.6" stroke="#000" stroke-width=".8"/><path d="M669.10 658.83h1.6M682.60 658.83h-1.6" stroke="#000" stroke-width=".8"/><path d="M669.10 693.02h1.6M682.60 693.02h-1.6" stroke="#000" stroke-width=".8"/><text class="cb" transform="translate(679.3 421.2) rotate(-90)">High</text><text class="cb" transform="translate(679.3 559.1) rotate(-90)">LDOS a.u.</text><text class="cb" transform="translate(679.3 713.6) rotate(-90)">Low</text><text class="ti" x="2.2" y="19.4">WKB solusions</text></svg></body></html>
